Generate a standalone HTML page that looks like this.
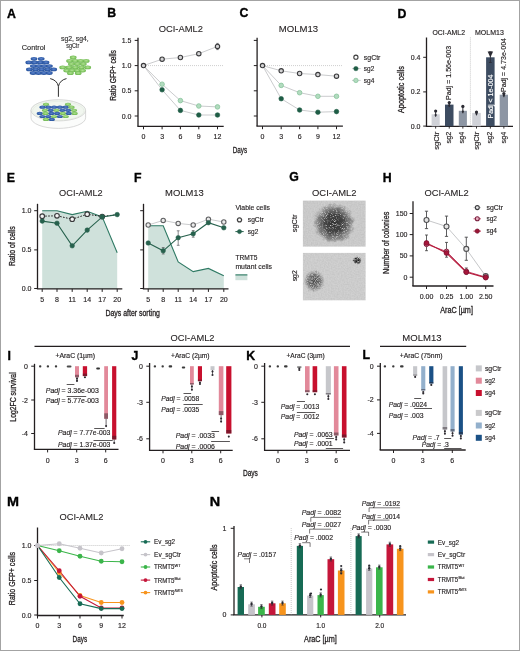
<!DOCTYPE html>
<html><head><meta charset="utf-8"><style>
html,body{margin:0;padding:0;background:#fff;}
svg{display:block;font-family:"Liberation Sans",sans-serif;will-change:transform;}
text{stroke:#231f20;stroke-width:0.15px;}
text.w{stroke:#fff;}
</style></head><body>
<svg width="520" height="651" viewBox="0 0 520 651" fill="#231f20">
<rect x="0" y="0" width="520" height="651" fill="#fff"/>
<rect x="0.5" y="0.5" width="519" height="650" fill="none" stroke="#a3a3a3" stroke-width="1"/>
<text x="7.10" y="17.95" font-size="12.3" font-weight="bold" fill="#000" style="stroke:#000;stroke-width:0.35px">A</text>
<text x="107.25" y="17.10" font-size="12.3" font-weight="bold" fill="#000" style="stroke:#000;stroke-width:0.35px">B</text>
<text x="239.55" y="17.40" font-size="12.3" font-weight="bold" fill="#000" style="stroke:#000;stroke-width:0.35px">C</text>
<text x="397.40" y="17.65" font-size="12.3" font-weight="bold" fill="#000" style="stroke:#000;stroke-width:0.35px">D</text>
<text x="6.65" y="182.25" font-size="12.3" font-weight="bold" fill="#000" style="stroke:#000;stroke-width:0.35px">E</text>
<text x="134.10" y="182.10" font-size="12.3" font-weight="bold" fill="#000" style="stroke:#000;stroke-width:0.35px">F</text>
<text x="289.15" y="181.40" font-size="12.3" font-weight="bold" fill="#000" style="stroke:#000;stroke-width:0.35px">G</text>
<text x="382.65" y="181.90" font-size="12.3" font-weight="bold" fill="#000" style="stroke:#000;stroke-width:0.35px">H</text>
<text x="7.50" y="359.80" font-size="12.3" font-weight="bold" fill="#000" style="stroke:#000;stroke-width:0.35px">I</text>
<text x="131.60" y="360.00" font-size="12.3" font-weight="bold" fill="#000" style="stroke:#000;stroke-width:0.35px">J</text>
<text x="246.25" y="359.80" font-size="12.3" font-weight="bold" fill="#000" style="stroke:#000;stroke-width:0.35px">K</text>
<text x="362.60" y="359.10" font-size="12.3" font-weight="bold" fill="#000" style="stroke:#000;stroke-width:0.35px">L</text>
<text x="7.00" y="506.30" font-size="12.3" font-weight="bold" fill="#000" textLength="12.00" lengthAdjust="spacingAndGlyphs" style="stroke:#000;stroke-width:0.35px">M</text>
<text x="209.80" y="506.15" font-size="12.3" font-weight="bold" fill="#000" textLength="10.40" lengthAdjust="spacingAndGlyphs" style="stroke:#000;stroke-width:0.35px">N</text>
<text x="21.80" y="49.57" font-size="6.5" fill="#3a3a3a" textLength="23.70" lengthAdjust="spacingAndGlyphs">Control</text>
<text x="61.00" y="41.27" font-size="6.5" fill="#3a3a3a" textLength="27.70" lengthAdjust="spacingAndGlyphs">sg2, sg4,</text>
<text x="66.20" y="47.88" font-size="6.5" fill="#3a3a3a" textLength="13.00" lengthAdjust="spacingAndGlyphs">sgCtr</text>
<defs>
<radialGradient id="cb" cx="0.5" cy="0.45" r="0.55"><stop offset="0" stop-color="#5f86cc"/><stop offset="0.6" stop-color="#3762ae"/><stop offset="1" stop-color="#234f98"/></radialGradient>
<radialGradient id="cg" cx="0.5" cy="0.45" r="0.55"><stop offset="0" stop-color="#b2e294"/><stop offset="0.6" stop-color="#86c967"/><stop offset="1" stop-color="#68b04c"/></radialGradient>
</defs>
<ellipse cx="34.00" cy="58.80" rx="3.4" ry="1.9" fill="url(#cb)"/>
<ellipse cx="41.20" cy="58.80" rx="3.4" ry="1.9" fill="url(#cb)"/>
<ellipse cx="28.80" cy="62.40" rx="3.4" ry="1.9" fill="url(#cb)"/>
<ellipse cx="34.53" cy="62.40" rx="3.4" ry="1.9" fill="url(#cb)"/>
<ellipse cx="40.27" cy="62.40" rx="3.4" ry="1.9" fill="url(#cb)"/>
<ellipse cx="46.00" cy="62.40" rx="3.4" ry="1.9" fill="url(#cb)"/>
<ellipse cx="33.40" cy="66.10" rx="3.4" ry="1.9" fill="url(#cb)"/>
<ellipse cx="38.73" cy="66.10" rx="3.4" ry="1.9" fill="url(#cb)"/>
<ellipse cx="44.07" cy="66.10" rx="3.4" ry="1.9" fill="url(#cb)"/>
<ellipse cx="49.40" cy="66.10" rx="3.4" ry="1.9" fill="url(#cb)"/>
<ellipse cx="29.40" cy="69.40" rx="3.4" ry="1.9" fill="url(#cb)"/>
<ellipse cx="35.48" cy="69.40" rx="3.4" ry="1.9" fill="url(#cb)"/>
<ellipse cx="41.55" cy="69.40" rx="3.4" ry="1.9" fill="url(#cb)"/>
<ellipse cx="47.62" cy="69.40" rx="3.4" ry="1.9" fill="url(#cb)"/>
<ellipse cx="53.70" cy="69.40" rx="3.4" ry="1.9" fill="url(#cb)"/>
<ellipse cx="33.10" cy="73.00" rx="3.4" ry="1.9" fill="url(#cb)"/>
<ellipse cx="38.50" cy="73.00" rx="3.4" ry="1.9" fill="url(#cb)"/>
<ellipse cx="43.90" cy="73.00" rx="3.4" ry="1.9" fill="url(#cb)"/>
<ellipse cx="49.30" cy="73.00" rx="3.4" ry="1.9" fill="url(#cb)"/>
<ellipse cx="73.20" cy="57.50" rx="3.4" ry="1.9" fill="url(#cg)"/>
<ellipse cx="69.60" cy="60.90" rx="3.4" ry="1.9" fill="url(#cg)"/>
<ellipse cx="75.13" cy="60.90" rx="3.4" ry="1.9" fill="url(#cg)"/>
<ellipse cx="80.67" cy="60.90" rx="3.4" ry="1.9" fill="url(#cg)"/>
<ellipse cx="86.20" cy="60.90" rx="3.4" ry="1.9" fill="url(#cg)"/>
<ellipse cx="71.40" cy="64.10" rx="3.4" ry="1.9" fill="url(#cg)"/>
<ellipse cx="77.35" cy="64.10" rx="3.4" ry="1.9" fill="url(#cg)"/>
<ellipse cx="83.30" cy="64.10" rx="3.4" ry="1.9" fill="url(#cg)"/>
<ellipse cx="62.70" cy="67.40" rx="3.4" ry="1.9" fill="url(#cg)"/>
<ellipse cx="68.95" cy="67.40" rx="3.4" ry="1.9" fill="url(#cg)"/>
<ellipse cx="75.20" cy="67.40" rx="3.4" ry="1.9" fill="url(#cg)"/>
<ellipse cx="81.45" cy="67.40" rx="3.4" ry="1.9" fill="url(#cg)"/>
<ellipse cx="87.70" cy="67.40" rx="3.4" ry="1.9" fill="url(#cg)"/>
<ellipse cx="66.70" cy="70.60" rx="3.4" ry="1.9" fill="url(#cg)"/>
<ellipse cx="72.00" cy="70.60" rx="3.4" ry="1.9" fill="url(#cg)"/>
<ellipse cx="77.30" cy="70.60" rx="3.4" ry="1.9" fill="url(#cg)"/>
<ellipse cx="82.60" cy="70.60" rx="3.4" ry="1.9" fill="url(#cg)"/>
<ellipse cx="70.40" cy="73.20" rx="3.4" ry="1.9" fill="url(#cg)"/>
<ellipse cx="78.20" cy="73.20" rx="3.4" ry="1.9" fill="url(#cg)"/>
<path d="M50.2,78.6 C54.2,79.4 57.6,82 58.4,86.4 M66.5,78.6 C62.6,79.4 59.2,82 58.4,86.4 L58.4,96.8" fill="none" stroke="#303030" stroke-width="1.0"/>
<path d="M31,110.3 L31,117.8 A27.3,10.6 0 0 0 85.6,117.8 L85.6,110.3" fill="#fbfcfb" stroke="#c8c8c8" stroke-width="0.7"/>
<ellipse cx="58.3" cy="110.3" rx="27.3" ry="10.6" fill="#f1f6ef" stroke="#c8c8c8" stroke-width="0.7"/>
<ellipse cx="58.3" cy="110.8" rx="25.6" ry="9.4" fill="none" stroke="#dfe6dc" stroke-width="0.5"/>
<ellipse cx="46.00" cy="104.30" rx="3.1" ry="1.6" fill="url(#cg)"/>
<ellipse cx="68.00" cy="104.30" rx="3.1" ry="1.6" fill="url(#cg)"/>
<ellipse cx="42.50" cy="107.20" rx="3.1" ry="1.6" fill="url(#cb)"/>
<ellipse cx="48.30" cy="107.20" rx="3.1" ry="1.6" fill="url(#cb)"/>
<ellipse cx="54.10" cy="107.20" rx="3.1" ry="1.6" fill="url(#cb)"/>
<ellipse cx="59.90" cy="107.20" rx="3.1" ry="1.6" fill="url(#cb)"/>
<ellipse cx="65.70" cy="107.20" rx="3.1" ry="1.6" fill="url(#cb)"/>
<ellipse cx="71.50" cy="107.20" rx="3.1" ry="1.6" fill="url(#cg)"/>
<ellipse cx="45.00" cy="110.30" rx="3.1" ry="1.6" fill="url(#cg)"/>
<ellipse cx="50.80" cy="110.30" rx="3.1" ry="1.6" fill="url(#cb)"/>
<ellipse cx="56.60" cy="110.30" rx="3.1" ry="1.6" fill="url(#cg)"/>
<ellipse cx="62.40" cy="110.30" rx="3.1" ry="1.6" fill="url(#cb)"/>
<ellipse cx="68.20" cy="110.30" rx="3.1" ry="1.6" fill="url(#cb)"/>
<ellipse cx="74.00" cy="110.30" rx="3.1" ry="1.6" fill="url(#cg)"/>
<ellipse cx="39.80" cy="113.40" rx="3.1" ry="1.6" fill="url(#cb)"/>
<ellipse cx="45.60" cy="113.40" rx="3.1" ry="1.6" fill="url(#cg)"/>
<ellipse cx="51.40" cy="113.40" rx="3.1" ry="1.6" fill="url(#cb)"/>
<ellipse cx="57.20" cy="113.40" rx="3.1" ry="1.6" fill="url(#cb)"/>
<ellipse cx="63.00" cy="113.40" rx="3.1" ry="1.6" fill="url(#cg)"/>
<ellipse cx="68.80" cy="113.40" rx="3.1" ry="1.6" fill="url(#cb)"/>
<ellipse cx="74.60" cy="113.40" rx="3.1" ry="1.6" fill="url(#cg)"/>
<ellipse cx="42.50" cy="116.50" rx="3.1" ry="1.6" fill="url(#cb)"/>
<ellipse cx="48.30" cy="116.50" rx="3.1" ry="1.6" fill="url(#cb)"/>
<ellipse cx="54.10" cy="116.50" rx="3.1" ry="1.6" fill="url(#cg)"/>
<ellipse cx="59.90" cy="116.50" rx="3.1" ry="1.6" fill="url(#cb)"/>
<ellipse cx="65.70" cy="116.50" rx="3.1" ry="1.6" fill="url(#cg)"/>
<ellipse cx="46.00" cy="119.40" rx="3.1" ry="1.6" fill="url(#cg)"/>
<ellipse cx="51.80" cy="119.40" rx="3.1" ry="1.6" fill="url(#cb)"/>
<text x="180.75" y="31.60" font-size="9.1" text-anchor="middle" textLength="44.20" lengthAdjust="spacingAndGlyphs" style="stroke-width:0.1px">OCI-AML2</text>
<line x1="138.00" y1="37.70" x2="138.00" y2="126.30" stroke="#231f20" stroke-width="1.3"/>
<line x1="134.70" y1="40.40" x2="138.00" y2="40.40" stroke="#231f20" stroke-width="1.0"/>
<text x="131.40" y="42.92" font-size="7" text-anchor="end">1.5</text>
<line x1="134.70" y1="65.60" x2="138.00" y2="65.60" stroke="#231f20" stroke-width="1.0"/>
<text x="131.40" y="68.12" font-size="7" text-anchor="end">1.0</text>
<line x1="134.70" y1="90.80" x2="138.00" y2="90.80" stroke="#231f20" stroke-width="1.0"/>
<text x="131.40" y="93.32" font-size="7" text-anchor="end">0.5</text>
<line x1="134.70" y1="116.00" x2="138.00" y2="116.00" stroke="#231f20" stroke-width="1.0"/>
<text x="131.40" y="118.52" font-size="7" text-anchor="end">0.0</text>
<line x1="137.35" y1="126.30" x2="223.70" y2="126.30" stroke="#231f20" stroke-width="1.3"/>
<line x1="143.50" y1="126.30" x2="143.50" y2="129.30" stroke="#231f20" stroke-width="1.0"/>
<text x="143.50" y="139.42" font-size="7" text-anchor="middle">0</text>
<line x1="162.10" y1="126.30" x2="162.10" y2="129.30" stroke="#231f20" stroke-width="1.0"/>
<text x="162.10" y="139.42" font-size="7" text-anchor="middle">3</text>
<line x1="180.40" y1="126.30" x2="180.40" y2="129.30" stroke="#231f20" stroke-width="1.0"/>
<text x="180.40" y="139.42" font-size="7" text-anchor="middle">6</text>
<line x1="198.80" y1="126.30" x2="198.80" y2="129.30" stroke="#231f20" stroke-width="1.0"/>
<text x="198.80" y="139.42" font-size="7" text-anchor="middle">9</text>
<line x1="217.50" y1="126.30" x2="217.50" y2="129.30" stroke="#231f20" stroke-width="1.0"/>
<text x="217.50" y="139.42" font-size="7" text-anchor="middle">12</text>
<line x1="146.00" y1="65.60" x2="224.00" y2="65.60" stroke="#a8a8a8" stroke-width="0.7" stroke-dasharray="0.8 1.2"/>
<polyline points="143.50,65.60 162.10,89.80 180.40,110.40 198.80,115.00 217.50,115.00" fill="none" stroke="#bcbec0" stroke-width="0.8"/>
<polyline points="143.50,65.60 162.10,84.20 180.40,100.60 198.80,106.00 217.50,106.90" fill="none" stroke="#bcbec0" stroke-width="0.8"/>
<polyline points="143.50,65.60 162.10,59.20 180.40,57.50 198.80,53.70 217.50,46.40" fill="none" stroke="#bcbec0" stroke-width="0.8"/>
<circle cx="162.10" cy="89.80" r="2.3" fill="#1e5c45" stroke="#1e5c45" stroke-width="0.6"/>
<circle cx="180.40" cy="110.40" r="2.3" fill="#1e5c45" stroke="#1e5c45" stroke-width="0.6"/>
<circle cx="198.80" cy="115.00" r="2.3" fill="#1e5c45" stroke="#1e5c45" stroke-width="0.6"/>
<circle cx="217.50" cy="115.00" r="2.3" fill="#1e5c45" stroke="#1e5c45" stroke-width="0.6"/>
<circle cx="162.10" cy="84.20" r="2.3" fill="#b2dbbf" stroke="#86c49a" stroke-width="0.8"/>
<circle cx="180.40" cy="100.60" r="2.3" fill="#b2dbbf" stroke="#86c49a" stroke-width="0.8"/>
<circle cx="198.80" cy="106.00" r="2.3" fill="#b2dbbf" stroke="#86c49a" stroke-width="0.8"/>
<circle cx="217.50" cy="106.90" r="2.3" fill="#b2dbbf" stroke="#86c49a" stroke-width="0.8"/>
<line x1="217.50" y1="43.40" x2="217.50" y2="49.60" stroke="#58595b" stroke-width="0.7"/>
<line x1="216.20" y1="43.40" x2="218.80" y2="43.40" stroke="#58595b" stroke-width="0.7"/>
<line x1="216.20" y1="49.60" x2="218.80" y2="49.60" stroke="#58595b" stroke-width="0.7"/>
<circle cx="143.50" cy="65.60" r="2.2" fill="#d4d4d5" stroke="#3a3a3c" stroke-width="1.1"/>
<circle cx="162.10" cy="59.20" r="2.2" fill="#d4d4d5" stroke="#3a3a3c" stroke-width="1.1"/>
<circle cx="180.40" cy="57.50" r="2.2" fill="#d4d4d5" stroke="#3a3a3c" stroke-width="1.1"/>
<circle cx="198.80" cy="53.70" r="2.2" fill="#d4d4d5" stroke="#3a3a3c" stroke-width="1.1"/>
<circle cx="217.50" cy="46.40" r="2.2" fill="#d4d4d5" stroke="#3a3a3c" stroke-width="1.1"/>
<text x="116.00" y="75.45" font-size="9" text-anchor="middle" textLength="50.70" lengthAdjust="spacingAndGlyphs" transform="rotate(-90 116.00 75.45)" style="stroke-width:0.3px">Ratio GFP+ cells</text>
<text x="232.80" y="152.50" font-size="9" textLength="14.40" lengthAdjust="spacingAndGlyphs" style="stroke-width:0.3px">Days</text>
<text x="298.45" y="31.70" font-size="9.1" text-anchor="middle" textLength="39.40" lengthAdjust="spacingAndGlyphs" style="stroke-width:0.1px">MOLM13</text>
<line x1="257.10" y1="37.70" x2="257.10" y2="126.20" stroke="#231f20" stroke-width="1.3"/>
<line x1="253.80" y1="40.40" x2="257.10" y2="40.40" stroke="#231f20" stroke-width="1.0"/>
<line x1="253.80" y1="65.60" x2="257.10" y2="65.60" stroke="#231f20" stroke-width="1.0"/>
<line x1="253.80" y1="90.80" x2="257.10" y2="90.80" stroke="#231f20" stroke-width="1.0"/>
<line x1="253.80" y1="116.00" x2="257.10" y2="116.00" stroke="#231f20" stroke-width="1.0"/>
<line x1="256.45" y1="126.20" x2="342.90" y2="126.20" stroke="#231f20" stroke-width="1.3"/>
<line x1="262.50" y1="126.20" x2="262.50" y2="129.20" stroke="#231f20" stroke-width="1.0"/>
<text x="262.50" y="139.42" font-size="7" text-anchor="middle">0</text>
<line x1="281.20" y1="126.20" x2="281.20" y2="129.20" stroke="#231f20" stroke-width="1.0"/>
<text x="281.20" y="139.42" font-size="7" text-anchor="middle">3</text>
<line x1="299.60" y1="126.20" x2="299.60" y2="129.20" stroke="#231f20" stroke-width="1.0"/>
<text x="299.60" y="139.42" font-size="7" text-anchor="middle">6</text>
<line x1="317.90" y1="126.20" x2="317.90" y2="129.20" stroke="#231f20" stroke-width="1.0"/>
<text x="317.90" y="139.42" font-size="7" text-anchor="middle">9</text>
<line x1="336.50" y1="126.20" x2="336.50" y2="129.20" stroke="#231f20" stroke-width="1.0"/>
<text x="336.50" y="139.42" font-size="7" text-anchor="middle">12</text>
<line x1="265.00" y1="65.60" x2="343.00" y2="65.60" stroke="#a8a8a8" stroke-width="0.7" stroke-dasharray="0.8 1.2"/>
<polyline points="262.50,65.60 281.20,98.70 299.60,110.00 317.90,112.20 336.50,111.60" fill="none" stroke="#bcbec0" stroke-width="0.8"/>
<polyline points="262.50,65.60 281.20,85.40 299.60,92.70 317.90,96.30 336.50,96.30" fill="none" stroke="#bcbec0" stroke-width="0.8"/>
<polyline points="262.50,65.60 281.20,70.80 299.60,73.50 317.90,74.60 336.50,76.20" fill="none" stroke="#bcbec0" stroke-width="0.8"/>
<circle cx="281.20" cy="98.70" r="2.3" fill="#1e5c45" stroke="#1e5c45" stroke-width="0.6"/>
<circle cx="299.60" cy="110.00" r="2.3" fill="#1e5c45" stroke="#1e5c45" stroke-width="0.6"/>
<circle cx="317.90" cy="112.20" r="2.3" fill="#1e5c45" stroke="#1e5c45" stroke-width="0.6"/>
<circle cx="336.50" cy="111.60" r="2.3" fill="#1e5c45" stroke="#1e5c45" stroke-width="0.6"/>
<circle cx="281.20" cy="85.40" r="2.3" fill="#b2dbbf" stroke="#86c49a" stroke-width="0.8"/>
<circle cx="299.60" cy="92.70" r="2.3" fill="#b2dbbf" stroke="#86c49a" stroke-width="0.8"/>
<circle cx="317.90" cy="96.30" r="2.3" fill="#b2dbbf" stroke="#86c49a" stroke-width="0.8"/>
<circle cx="336.50" cy="96.30" r="2.3" fill="#b2dbbf" stroke="#86c49a" stroke-width="0.8"/>
<circle cx="262.50" cy="65.60" r="2.2" fill="#d4d4d5" stroke="#3a3a3c" stroke-width="1.1"/>
<circle cx="281.20" cy="70.80" r="2.2" fill="#d4d4d5" stroke="#3a3a3c" stroke-width="1.1"/>
<circle cx="299.60" cy="73.50" r="2.2" fill="#d4d4d5" stroke="#3a3a3c" stroke-width="1.1"/>
<circle cx="317.90" cy="74.60" r="2.2" fill="#d4d4d5" stroke="#3a3a3c" stroke-width="1.1"/>
<circle cx="336.50" cy="76.20" r="2.2" fill="#d4d4d5" stroke="#3a3a3c" stroke-width="1.1"/>
<circle cx="355.90" cy="57.20" r="2.1" fill="#ffffff" stroke="#3c3c3c" stroke-width="1.1"/>
<line x1="352.00" y1="68.60" x2="360.70" y2="68.60" stroke="#bcbec0" stroke-width="0.8"/>
<circle cx="355.90" cy="68.60" r="2.2" fill="#1e5c45" stroke="#1e5c45" stroke-width="0.5"/>
<line x1="352.00" y1="80.40" x2="360.70" y2="80.40" stroke="#bcbec0" stroke-width="0.8"/>
<circle cx="355.90" cy="80.40" r="2.2" fill="#b2dbbf" stroke="#86c49a" stroke-width="0.8"/>
<text x="363.80" y="59.60" font-size="7.2" textLength="16.60" lengthAdjust="spacingAndGlyphs">sgCtr</text>
<text x="363.80" y="71.00" font-size="7.2" textLength="10.50" lengthAdjust="spacingAndGlyphs">sg2</text>
<text x="363.80" y="82.80" font-size="7.2" textLength="10.50" lengthAdjust="spacingAndGlyphs">sg4</text>
<text x="432.50" y="35.00" font-size="7" textLength="32.50" lengthAdjust="spacingAndGlyphs">OCI-AML2</text>
<text x="475.00" y="35.00" font-size="7" textLength="28.80" lengthAdjust="spacingAndGlyphs">MOLM13</text>
<line x1="426.50" y1="37.50" x2="426.50" y2="126.30" stroke="#231f20" stroke-width="1.3"/>
<line x1="423.20" y1="57.30" x2="426.50" y2="57.30" stroke="#231f20" stroke-width="1.0"/>
<text x="420.50" y="59.82" font-size="7" text-anchor="end">0.4</text>
<line x1="423.20" y1="91.90" x2="426.50" y2="91.90" stroke="#231f20" stroke-width="1.0"/>
<text x="420.50" y="94.42" font-size="7" text-anchor="end">0.2</text>
<line x1="423.20" y1="126.10" x2="426.50" y2="126.10" stroke="#231f20" stroke-width="1.0"/>
<text x="420.50" y="128.62" font-size="7" text-anchor="end">0.0</text>
<line x1="425.85" y1="126.30" x2="513.00" y2="126.30" stroke="#231f20" stroke-width="1.3"/>
<rect x="431.60" y="114.30" width="8.10" height="12.00" fill="#d0d2d8"/>
<rect x="445.00" y="104.60" width="8.50" height="21.70" fill="#3d4c61"/>
<rect x="458.80" y="110.80" width="8.10" height="15.50" fill="#8d96a4"/>
<rect x="472.20" y="112.90" width="8.60" height="13.40" fill="#d0d2d8"/>
<rect x="486.10" y="57.30" width="8.50" height="69.00" fill="#3d4c61"/>
<rect x="499.70" y="94.70" width="8.30" height="31.60" fill="#8d96a4"/>
<line x1="435.65" y1="111.00" x2="435.65" y2="116.80" stroke="#2b2b33" stroke-width="1.0"/>
<circle cx="435.65" cy="111.00" r="1.6" fill="#2b2b33"/>
<circle cx="435.65" cy="115.10" r="1.1" fill="#2b2b33"/>
<line x1="435.65" y1="126.30" x2="435.65" y2="128.60" stroke="#231f20" stroke-width="0.9"/>
<line x1="449.25" y1="102.60" x2="449.25" y2="107.10" stroke="#2b2b33" stroke-width="1.0"/>
<circle cx="449.25" cy="102.60" r="1.6" fill="#2b2b33"/>
<circle cx="449.25" cy="105.40" r="1.1" fill="#2b2b33"/>
<line x1="449.25" y1="126.30" x2="449.25" y2="128.60" stroke="#231f20" stroke-width="0.9"/>
<line x1="462.85" y1="106.40" x2="462.85" y2="113.30" stroke="#2b2b33" stroke-width="1.0"/>
<circle cx="462.85" cy="106.40" r="1.6" fill="#2b2b33"/>
<circle cx="462.85" cy="111.60" r="1.1" fill="#2b2b33"/>
<line x1="462.85" y1="126.30" x2="462.85" y2="128.60" stroke="#231f20" stroke-width="0.9"/>
<line x1="476.50" y1="112.00" x2="476.50" y2="115.40" stroke="#2b2b33" stroke-width="1.0"/>
<circle cx="476.50" cy="112.00" r="1.6" fill="#2b2b33"/>
<circle cx="476.50" cy="113.70" r="1.1" fill="#2b2b33"/>
<line x1="476.50" y1="126.30" x2="476.50" y2="128.60" stroke="#231f20" stroke-width="0.9"/>
<line x1="490.35" y1="126.30" x2="490.35" y2="128.60" stroke="#231f20" stroke-width="0.9"/>
<line x1="503.85" y1="93.60" x2="503.85" y2="97.20" stroke="#2b2b33" stroke-width="1.0"/>
<circle cx="503.85" cy="93.60" r="1.6" fill="#2b2b33"/>
<circle cx="503.85" cy="95.50" r="1.1" fill="#2b2b33"/>
<line x1="503.85" y1="126.30" x2="503.85" y2="128.60" stroke="#231f20" stroke-width="0.9"/>
<line x1="490.35" y1="51.80" x2="490.35" y2="62.50" stroke="#2b2b33" stroke-width="0.8"/>
<line x1="488.95" y1="51.80" x2="491.75" y2="51.80" stroke="#2b2b33" stroke-width="0.8"/>
<line x1="488.95" y1="62.50" x2="491.75" y2="62.50" stroke="#2b2b33" stroke-width="0.8"/>
<line x1="470.40" y1="37.50" x2="470.40" y2="126.00" stroke="#a0a0a0" stroke-width="0.7" stroke-dasharray="0.8 1.2"/>
<path d="M487.6,51.6 H493.1 L490.35,57.6 Z" fill="#2b2b33"/>
<text x="451.17" y="72.90" font-size="6.5" text-anchor="middle" fill="#231f20" style="stroke:#231f20" textLength="54.2" lengthAdjust="spacingAndGlyphs" transform="rotate(-90 451.17 72.90)">Padj = 1.56e-003</text>
<text x="492.57" y="96.50" font-size="6.5" text-anchor="middle" fill="#ffffff" style="stroke:#ffffff" textLength="43.9" lengthAdjust="spacingAndGlyphs" transform="rotate(-90 492.57 96.50)">Padj &lt; 1e-004</text>
<text x="506.07" y="65.00" font-size="6.5" text-anchor="middle" fill="#231f20" style="stroke:#231f20" textLength="54.0" lengthAdjust="spacingAndGlyphs" transform="rotate(-90 506.07 65.00)">Padj = 4.73e-004</text>
<text x="438.75" y="131.80" font-size="6.5" text-anchor="end" textLength="18.00" lengthAdjust="spacingAndGlyphs" transform="rotate(-90 438.75 131.80)">sgCtr</text>
<text x="451.15" y="131.80" font-size="6.5" text-anchor="end" textLength="11.60" lengthAdjust="spacingAndGlyphs" transform="rotate(-90 451.15 131.80)">sg2</text>
<text x="463.65" y="131.80" font-size="6.5" text-anchor="end" textLength="11.60" lengthAdjust="spacingAndGlyphs" transform="rotate(-90 463.65 131.80)">sg4</text>
<text x="478.85" y="131.80" font-size="6.5" text-anchor="end" textLength="18.00" lengthAdjust="spacingAndGlyphs" transform="rotate(-90 478.85 131.80)">sgCtr</text>
<text x="491.85" y="131.80" font-size="6.5" text-anchor="end" textLength="11.60" lengthAdjust="spacingAndGlyphs" transform="rotate(-90 491.85 131.80)">sg2</text>
<text x="505.65" y="131.80" font-size="6.5" text-anchor="end" textLength="11.60" lengthAdjust="spacingAndGlyphs" transform="rotate(-90 505.65 131.80)">sg4</text>
<text x="404.10" y="89.50" font-size="8.5" text-anchor="middle" textLength="47.00" lengthAdjust="spacingAndGlyphs" transform="rotate(-90 404.10 89.50)" style="stroke-width:0.3px">Apoptotic cells</text>
<text x="80.90" y="196.20" font-size="9.1" text-anchor="middle" textLength="43.60" lengthAdjust="spacingAndGlyphs" style="stroke-width:0.1px">OCI-AML2</text>
<polygon points="42.20,288.90 42.20,210.70 57.00,210.70 72.20,214.60 87.20,211.20 102.20,216.90 117.20,252.70 117.20,288.90" fill="#cfe1db"/>
<polyline points="42.20,210.70 57.00,210.70 72.20,214.60 87.20,211.20 102.20,216.90 117.20,252.70" fill="none" stroke="#2f7a64" stroke-width="1.1"/>
<line x1="37.50" y1="203.80" x2="37.50" y2="288.90" stroke="#231f20" stroke-width="1.3"/>
<line x1="34.20" y1="210.70" x2="37.50" y2="210.70" stroke="#231f20" stroke-width="1.0"/>
<text x="31.50" y="213.22" font-size="7" text-anchor="end">1.0</text>
<line x1="34.20" y1="249.90" x2="37.50" y2="249.90" stroke="#231f20" stroke-width="1.0"/>
<text x="31.50" y="252.42" font-size="7" text-anchor="end">0.5</text>
<line x1="34.20" y1="288.50" x2="37.50" y2="288.50" stroke="#231f20" stroke-width="1.0"/>
<text x="31.50" y="291.02" font-size="7" text-anchor="end">0.0</text>
<line x1="36.85" y1="288.90" x2="122.30" y2="288.90" stroke="#231f20" stroke-width="1.3"/>
<line x1="42.20" y1="288.90" x2="42.20" y2="291.90" stroke="#231f20" stroke-width="1.0"/>
<text x="42.20" y="301.82" font-size="7" text-anchor="middle">5</text>
<line x1="57.00" y1="288.90" x2="57.00" y2="291.90" stroke="#231f20" stroke-width="1.0"/>
<text x="57.00" y="301.82" font-size="7" text-anchor="middle">8</text>
<line x1="72.20" y1="288.90" x2="72.20" y2="291.90" stroke="#231f20" stroke-width="1.0"/>
<text x="72.20" y="301.82" font-size="7" text-anchor="middle">11</text>
<line x1="87.20" y1="288.90" x2="87.20" y2="291.90" stroke="#231f20" stroke-width="1.0"/>
<text x="87.20" y="301.82" font-size="7" text-anchor="middle">14</text>
<line x1="102.20" y1="288.90" x2="102.20" y2="291.90" stroke="#231f20" stroke-width="1.0"/>
<text x="102.20" y="301.82" font-size="7" text-anchor="middle">17</text>
<line x1="117.20" y1="288.90" x2="117.20" y2="291.90" stroke="#231f20" stroke-width="1.0"/>
<text x="117.20" y="301.82" font-size="7" text-anchor="middle">20</text>
<polyline points="42.20,216.20 57.00,215.80 72.20,219.20 87.20,214.20 102.20,216.50 117.20,214.60" fill="none" stroke="#231f20" stroke-width="1.0" stroke-dasharray="1.6 1.4"/>
<polyline points="42.20,221.10 57.00,223.20 72.20,245.80 87.20,230.10 102.20,216.90 117.20,214.60" fill="none" stroke="#27614d" stroke-width="1.1"/>
<circle cx="42.20" cy="216.20" r="2.3" fill="#f4f4f4" stroke="#38383a" stroke-width="1.1"/>
<circle cx="57.00" cy="215.80" r="2.3" fill="#f4f4f4" stroke="#38383a" stroke-width="1.1"/>
<circle cx="72.20" cy="219.20" r="2.3" fill="#f4f4f4" stroke="#38383a" stroke-width="1.1"/>
<circle cx="87.20" cy="214.20" r="2.3" fill="#f4f4f4" stroke="#38383a" stroke-width="1.1"/>
<circle cx="102.20" cy="216.50" r="2.3" fill="#f4f4f4" stroke="#38383a" stroke-width="1.1"/>
<circle cx="42.20" cy="221.10" r="2.3" fill="#27614d" stroke="#27614d" stroke-width="0.5"/>
<circle cx="57.00" cy="223.20" r="2.3" fill="#27614d" stroke="#27614d" stroke-width="0.5"/>
<circle cx="72.20" cy="245.80" r="2.3" fill="#27614d" stroke="#27614d" stroke-width="0.5"/>
<circle cx="87.20" cy="230.10" r="2.3" fill="#27614d" stroke="#27614d" stroke-width="0.5"/>
<circle cx="102.20" cy="216.90" r="2.3" fill="#27614d" stroke="#27614d" stroke-width="0.5"/>
<circle cx="117.20" cy="214.60" r="2.3" fill="#27614d" stroke="#27614d" stroke-width="0.5"/>
<text x="14.80" y="246.20" font-size="8.8" text-anchor="middle" textLength="39.60" lengthAdjust="spacingAndGlyphs" transform="rotate(-90 14.80 246.20)" style="stroke-width:0.3px">Ratio of cells</text>
<text x="105.40" y="315.50" font-size="8.5" textLength="54.50" lengthAdjust="spacingAndGlyphs" style="stroke-width:0.3px">Days after sorting</text>
<text x="184.45" y="196.20" font-size="9.1" text-anchor="middle" textLength="38.80" lengthAdjust="spacingAndGlyphs" style="stroke-width:0.1px">MOLM13</text>
<polygon points="148.20,288.90 148.20,225.70 163.20,225.70 178.20,261.90 193.20,271.60 208.40,268.40 223.80,275.80 223.80,288.90" fill="#cfe1db"/>
<polyline points="148.20,225.70 163.20,225.70 178.20,261.90 193.20,271.60 208.40,268.40 223.80,275.80" fill="none" stroke="#2f7a64" stroke-width="1.1"/>
<line x1="143.50" y1="203.80" x2="143.50" y2="288.90" stroke="#231f20" stroke-width="1.3"/>
<line x1="140.20" y1="210.70" x2="143.50" y2="210.70" stroke="#231f20" stroke-width="1.0"/>
<line x1="140.20" y1="249.90" x2="143.50" y2="249.90" stroke="#231f20" stroke-width="1.0"/>
<line x1="140.20" y1="288.50" x2="143.50" y2="288.50" stroke="#231f20" stroke-width="1.0"/>
<line x1="142.85" y1="288.90" x2="228.50" y2="288.90" stroke="#231f20" stroke-width="1.3"/>
<line x1="148.20" y1="288.90" x2="148.20" y2="291.90" stroke="#231f20" stroke-width="1.0"/>
<text x="148.20" y="301.82" font-size="7" text-anchor="middle">5</text>
<line x1="163.20" y1="288.90" x2="163.20" y2="291.90" stroke="#231f20" stroke-width="1.0"/>
<text x="163.20" y="301.82" font-size="7" text-anchor="middle">8</text>
<line x1="178.20" y1="288.90" x2="178.20" y2="291.90" stroke="#231f20" stroke-width="1.0"/>
<text x="178.20" y="301.82" font-size="7" text-anchor="middle">11</text>
<line x1="193.20" y1="288.90" x2="193.20" y2="291.90" stroke="#231f20" stroke-width="1.0"/>
<text x="193.20" y="301.82" font-size="7" text-anchor="middle">14</text>
<line x1="208.40" y1="288.90" x2="208.40" y2="291.90" stroke="#231f20" stroke-width="1.0"/>
<text x="208.40" y="301.82" font-size="7" text-anchor="middle">17</text>
<line x1="223.80" y1="288.90" x2="223.80" y2="291.90" stroke="#231f20" stroke-width="1.0"/>
<text x="223.80" y="301.82" font-size="7" text-anchor="middle">20</text>
<polyline points="148.20,225.00 163.20,220.40 178.20,223.40 193.20,225.00 208.40,219.20 223.80,222.00" fill="none" stroke="#bcbec0" stroke-width="0.8"/>
<polyline points="148.20,243.00 163.20,250.80 178.20,237.70 193.20,233.80 208.40,222.70 223.80,227.80" fill="none" stroke="#27614d" stroke-width="1.1"/>
<line x1="163.20" y1="247.50" x2="163.20" y2="254.00" stroke="#58595b" stroke-width="0.7"/>
<line x1="161.80" y1="247.50" x2="164.60" y2="247.50" stroke="#58595b" stroke-width="0.7"/>
<line x1="161.80" y1="254.00" x2="164.60" y2="254.00" stroke="#58595b" stroke-width="0.7"/>
<line x1="178.20" y1="230.80" x2="178.20" y2="245.30" stroke="#58595b" stroke-width="0.7"/>
<line x1="176.80" y1="230.80" x2="179.60" y2="230.80" stroke="#58595b" stroke-width="0.7"/>
<line x1="176.80" y1="245.30" x2="179.60" y2="245.30" stroke="#58595b" stroke-width="0.7"/>
<line x1="193.20" y1="230.50" x2="193.20" y2="237.20" stroke="#58595b" stroke-width="0.7"/>
<line x1="191.80" y1="230.50" x2="194.60" y2="230.50" stroke="#58595b" stroke-width="0.7"/>
<line x1="191.80" y1="237.20" x2="194.60" y2="237.20" stroke="#58595b" stroke-width="0.7"/>
<circle cx="148.20" cy="225.00" r="2.2" fill="#ececec" stroke="#5e5f61" stroke-width="1.1"/>
<circle cx="163.20" cy="220.40" r="2.2" fill="#ececec" stroke="#5e5f61" stroke-width="1.1"/>
<circle cx="178.20" cy="223.40" r="2.2" fill="#ececec" stroke="#5e5f61" stroke-width="1.1"/>
<circle cx="193.20" cy="225.00" r="2.2" fill="#ececec" stroke="#5e5f61" stroke-width="1.1"/>
<circle cx="208.40" cy="219.20" r="2.2" fill="#ececec" stroke="#5e5f61" stroke-width="1.1"/>
<circle cx="223.80" cy="222.00" r="2.2" fill="#ececec" stroke="#5e5f61" stroke-width="1.1"/>
<circle cx="148.20" cy="243.00" r="2.3" fill="#27614d" stroke="#27614d" stroke-width="0.5"/>
<circle cx="163.20" cy="250.80" r="2.3" fill="#27614d" stroke="#27614d" stroke-width="0.5"/>
<circle cx="178.20" cy="237.70" r="2.3" fill="#27614d" stroke="#27614d" stroke-width="0.5"/>
<circle cx="193.20" cy="233.80" r="2.3" fill="#27614d" stroke="#27614d" stroke-width="0.5"/>
<circle cx="208.40" cy="222.70" r="2.3" fill="#27614d" stroke="#27614d" stroke-width="0.5"/>
<circle cx="223.80" cy="227.80" r="2.3" fill="#27614d" stroke="#27614d" stroke-width="0.5"/>
<text x="235.40" y="209.80" font-size="7.2" textLength="34.50" lengthAdjust="spacingAndGlyphs">Viable cells</text>
<line x1="236.00" y1="219.90" x2="243.20" y2="219.90" stroke="#bcbec0" stroke-width="0.8"/>
<circle cx="239.50" cy="219.90" r="2.0" fill="#ffffff" stroke="#3c3c3c" stroke-width="1.1"/>
<line x1="235.40" y1="231.60" x2="243.70" y2="231.60" stroke="#27614d" stroke-width="1.0"/>
<circle cx="239.50" cy="231.60" r="2.1" fill="#27614d" stroke="#27614d" stroke-width="0.5"/>
<text x="247.80" y="222.30" font-size="7.2" textLength="16.00" lengthAdjust="spacingAndGlyphs">sgCtr</text>
<text x="247.80" y="234.00" font-size="7.2" textLength="10.50" lengthAdjust="spacingAndGlyphs">sg2</text>
<text x="235.40" y="260.30" font-size="7.2" textLength="22.00" lengthAdjust="spacingAndGlyphs">TRMT5</text>
<text x="235.40" y="268.90" font-size="7.2" textLength="36.60" lengthAdjust="spacingAndGlyphs">mutant cells</text>
<rect x="235.40" y="275.20" width="12.00" height="5.00" fill="#cfe1db"/>
<line x1="235.40" y1="274.90" x2="247.40" y2="274.90" stroke="#2f7a64" stroke-width="1.2"/>
<text x="334.25" y="196.20" font-size="9.1" text-anchor="middle" textLength="44.50" lengthAdjust="spacingAndGlyphs" style="stroke-width:0.1px">OCI-AML2</text>
<defs>
<radialGradient id="blob1" cx="0.52" cy="0.5" r="0.5"><stop offset="0" stop-color="#2a2a2a" stop-opacity="0.95"/><stop offset="0.45" stop-color="#2e2e2e" stop-opacity="0.85"/><stop offset="0.75" stop-color="#3a3a3a" stop-opacity="0.5"/><stop offset="1" stop-color="#444" stop-opacity="0"/></radialGradient>
<radialGradient id="blob2" cx="0.5" cy="0.5" r="0.5"><stop offset="0" stop-color="#2e2e2e" stop-opacity="0.85"/><stop offset="0.6" stop-color="#363636" stop-opacity="0.6"/><stop offset="1" stop-color="#444" stop-opacity="0"/></radialGradient>
<radialGradient id="blob3" cx="0.5" cy="0.5" r="0.5"><stop offset="0" stop-color="#111" /><stop offset="0.6" stop-color="#222" stop-opacity="0.95"/><stop offset="1" stop-color="#333" stop-opacity="0"/></radialGradient>
<filter id="sp" x="-20%" y="-20%" width="140%" height="140%" color-interpolation-filters="sRGB">
 <feTurbulence type="fractalNoise" baseFrequency="0.22" numOctaves="2" seed="11" result="d"/>
 <feDisplacementMap in="SourceGraphic" in2="d" scale="5" xChannelSelector="R" yChannelSelector="G" result="disp"/>
 <feTurbulence type="fractalNoise" baseFrequency="1.1" numOctaves="2" seed="7" result="t"/>
 <feColorMatrix in="t" type="matrix" values="0 0 0 0 0  0 0 0 0 0  0 0 0 0 0  3.2 0 0 0 -0.55" result="m"/>
 <feComposite in="disp" in2="m" operator="in"/>
</filter>
<filter id="sp2" x="-30%" y="-30%" width="160%" height="160%" color-interpolation-filters="sRGB">
 <feTurbulence type="fractalNoise" baseFrequency="0.4" numOctaves="2" seed="5" result="d"/>
 <feDisplacementMap in="SourceGraphic" in2="d" scale="2.5" xChannelSelector="R" yChannelSelector="G" result="disp"/>
 <feTurbulence type="fractalNoise" baseFrequency="1.1" numOctaves="2" seed="9" result="t"/>
 <feColorMatrix in="t" type="matrix" values="0 0 0 0 0  0 0 0 0 0  0 0 0 0 0  2.4 0 0 0 -0.4" result="m"/>
 <feComposite in="disp" in2="m" operator="in"/>
</filter>
<filter id="bgn" x="0" y="0" width="100%" height="100%" color-interpolation-filters="sRGB">
 <feTurbulence type="fractalNoise" baseFrequency="0.7" numOctaves="1" seed="3" result="t"/>
 <feColorMatrix in="t" type="matrix" values="0 0 0 0 0.5  0 0 0 0 0.5  0 0 0 0 0.5  0.5 0 0 0 -0.15" result="m"/>
 <feComposite in="m" in2="SourceGraphic" operator="in"/>
</filter>
</defs>
<rect x="302.90" y="200.60" width="62.70" height="46.00" fill="#cecece"/>
<rect x="302.90" y="200.60" width="62.70" height="46.00" fill="#cecece" filter="url(#bgn)" opacity="0.6"/>
<ellipse cx="333.3" cy="223.3" rx="21" ry="20.5" fill="url(#blob1)" filter="url(#sp)"/>
<rect x="302.90" y="252.90" width="62.70" height="47.40" fill="#d1d1d1"/>
<rect x="302.90" y="252.90" width="62.70" height="47.40" fill="#d1d1d1" filter="url(#bgn)" opacity="0.6"/>
<ellipse cx="357.3" cy="260.5" rx="4.4" ry="4.2" fill="url(#blob3)" filter="url(#sp2)"/>
<ellipse cx="314.2" cy="281.0" rx="10.5" ry="11" fill="url(#blob2)" filter="url(#sp2)"/>
<text x="296.75" y="223.40" font-size="7" text-anchor="middle" textLength="17.60" lengthAdjust="spacingAndGlyphs" transform="rotate(-90 296.75 223.40)">sgCtr</text>
<text x="296.75" y="275.80" font-size="7" text-anchor="middle" textLength="11.00" lengthAdjust="spacingAndGlyphs" transform="rotate(-90 296.75 275.80)">sg2</text>
<text x="446.55" y="196.20" font-size="9.1" text-anchor="middle" textLength="44.10" lengthAdjust="spacingAndGlyphs" style="stroke-width:0.1px">OCI-AML2</text>
<line x1="413.00" y1="201.30" x2="413.00" y2="286.00" stroke="#231f20" stroke-width="1.3"/>
<line x1="409.70" y1="213.50" x2="413.00" y2="213.50" stroke="#231f20" stroke-width="1.0"/>
<text x="407.50" y="216.02" font-size="7" text-anchor="end">150</text>
<line x1="409.70" y1="234.60" x2="413.00" y2="234.60" stroke="#231f20" stroke-width="1.0"/>
<text x="407.50" y="237.12" font-size="7" text-anchor="end">100</text>
<line x1="409.70" y1="255.90" x2="413.00" y2="255.90" stroke="#231f20" stroke-width="1.0"/>
<text x="407.50" y="258.42" font-size="7" text-anchor="end">50</text>
<line x1="409.70" y1="277.20" x2="413.00" y2="277.20" stroke="#231f20" stroke-width="1.0"/>
<text x="407.50" y="279.72" font-size="7" text-anchor="end">0</text>
<line x1="412.35" y1="286.00" x2="493.50" y2="286.00" stroke="#231f20" stroke-width="1.3"/>
<line x1="426.50" y1="286.00" x2="426.50" y2="289.00" stroke="#231f20" stroke-width="1.0"/>
<text x="426.50" y="298.92" font-size="7" text-anchor="middle">0.00</text>
<line x1="446.50" y1="286.00" x2="446.50" y2="289.00" stroke="#231f20" stroke-width="1.0"/>
<text x="446.50" y="298.92" font-size="7" text-anchor="middle">0.25</text>
<line x1="466.30" y1="286.00" x2="466.30" y2="289.00" stroke="#231f20" stroke-width="1.0"/>
<text x="466.30" y="298.92" font-size="7" text-anchor="middle">1.00</text>
<line x1="485.70" y1="286.00" x2="485.70" y2="289.00" stroke="#231f20" stroke-width="1.0"/>
<text x="485.70" y="298.92" font-size="7" text-anchor="middle">2.50</text>
<text x="440.20" y="312.50" font-size="8.7" textLength="32.70" lengthAdjust="spacingAndGlyphs" style="stroke-width:0.3px">AraC [µm]</text>
<text x="389.50" y="242.90" font-size="8.7" text-anchor="middle" textLength="62.40" lengthAdjust="spacingAndGlyphs" transform="rotate(-90 389.50 242.90)" style="stroke-width:0.3px">Number of colonies</text>
<polyline points="426.50,220.00 446.50,226.50 466.30,248.90 485.70,276.10" fill="none" stroke="#b8b9bb" stroke-width="0.8"/>
<line x1="426.50" y1="211.20" x2="426.50" y2="228.60" stroke="#4a4a4c" stroke-width="0.9"/>
<line x1="424.90" y1="211.20" x2="428.10" y2="211.20" stroke="#4a4a4c" stroke-width="0.9"/>
<line x1="424.90" y1="228.60" x2="428.10" y2="228.60" stroke="#4a4a4c" stroke-width="0.9"/>
<line x1="446.50" y1="216.10" x2="446.50" y2="236.40" stroke="#4a4a4c" stroke-width="0.9"/>
<line x1="444.90" y1="216.10" x2="448.10" y2="216.10" stroke="#4a4a4c" stroke-width="0.9"/>
<line x1="444.90" y1="236.40" x2="448.10" y2="236.40" stroke="#4a4a4c" stroke-width="0.9"/>
<line x1="466.30" y1="237.20" x2="466.30" y2="260.30" stroke="#4a4a4c" stroke-width="0.9"/>
<line x1="464.70" y1="237.20" x2="467.90" y2="237.20" stroke="#4a4a4c" stroke-width="0.9"/>
<line x1="464.70" y1="260.30" x2="467.90" y2="260.30" stroke="#4a4a4c" stroke-width="0.9"/>
<line x1="426.50" y1="235.00" x2="426.50" y2="250.70" stroke="#3c3c3c" stroke-width="0.8"/>
<line x1="425.00" y1="235.00" x2="428.00" y2="235.00" stroke="#3c3c3c" stroke-width="0.8"/>
<line x1="425.00" y1="250.70" x2="428.00" y2="250.70" stroke="#3c3c3c" stroke-width="0.8"/>
<line x1="446.50" y1="242.40" x2="446.50" y2="257.20" stroke="#3c3c3c" stroke-width="0.8"/>
<line x1="445.00" y1="242.40" x2="448.00" y2="242.40" stroke="#3c3c3c" stroke-width="0.8"/>
<line x1="445.00" y1="257.20" x2="448.00" y2="257.20" stroke="#3c3c3c" stroke-width="0.8"/>
<line x1="466.30" y1="268.00" x2="466.30" y2="274.00" stroke="#3c3c3c" stroke-width="0.8"/>
<line x1="464.80" y1="268.00" x2="467.80" y2="268.00" stroke="#3c3c3c" stroke-width="0.8"/>
<line x1="464.80" y1="274.00" x2="467.80" y2="274.00" stroke="#3c3c3c" stroke-width="0.8"/>
<polyline points="426.50,244.20 446.50,251.50 466.30,271.40 485.70,277.20" fill="none" stroke="#c2476a" stroke-width="1.0"/>
<polyline points="426.50,243.00 446.50,253.00 466.30,272.20 485.70,277.60" fill="none" stroke="#b51a3a" stroke-width="1.1"/>
<circle cx="426.50" cy="220.00" r="2.5" fill="#e4e4e4" stroke="#505052" stroke-width="1.1"/>
<circle cx="446.50" cy="226.50" r="2.5" fill="#e4e4e4" stroke="#505052" stroke-width="1.1"/>
<circle cx="466.30" cy="248.90" r="2.5" fill="#e4e4e4" stroke="#505052" stroke-width="1.1"/>
<circle cx="485.70" cy="276.10" r="2.5" fill="#e4e4e4" stroke="#505052" stroke-width="1.1"/>
<circle cx="426.50" cy="244.20" r="2.4" fill="#d89aac" stroke="#8a2040" stroke-width="1.0"/>
<circle cx="446.50" cy="251.50" r="2.4" fill="#d89aac" stroke="#8a2040" stroke-width="1.0"/>
<circle cx="466.30" cy="271.40" r="2.4" fill="#d89aac" stroke="#8a2040" stroke-width="1.0"/>
<circle cx="485.70" cy="277.20" r="2.4" fill="#d89aac" stroke="#8a2040" stroke-width="1.0"/>
<circle cx="426.50" cy="243.00" r="2.4" fill="#a8163a" stroke="#7a1030" stroke-width="0.8"/>
<circle cx="446.50" cy="253.00" r="2.4" fill="#a8163a" stroke="#7a1030" stroke-width="0.8"/>
<circle cx="466.30" cy="272.20" r="2.4" fill="#a8163a" stroke="#7a1030" stroke-width="0.8"/>
<circle cx="485.70" cy="277.60" r="2.4" fill="#a8163a" stroke="#7a1030" stroke-width="0.8"/>
<line x1="473.50" y1="207.60" x2="481.00" y2="207.60" stroke="#b8b9bb" stroke-width="0.8"/>
<circle cx="477.30" cy="207.60" r="2.0" fill="#e6e6e6" stroke="#3e3e40" stroke-width="1.1"/>
<line x1="473.50" y1="218.80" x2="481.00" y2="218.80" stroke="#c2476a" stroke-width="0.9"/>
<circle cx="477.30" cy="218.80" r="2.0" fill="#e8b0c0" stroke="#7a2040" stroke-width="1.1"/>
<line x1="473.50" y1="231.10" x2="481.00" y2="231.10" stroke="#b51a3a" stroke-width="0.9"/>
<circle cx="477.30" cy="231.10" r="2.1" fill="#9b1535" stroke="#7a1030" stroke-width="0.8"/>
<text x="486.50" y="209.90" font-size="7.2" textLength="16.50" lengthAdjust="spacingAndGlyphs">sgCtr</text>
<text x="486.50" y="221.10" font-size="7.2" textLength="10.50" lengthAdjust="spacingAndGlyphs">sg2</text>
<text x="486.50" y="233.40" font-size="7.2" textLength="10.50" lengthAdjust="spacingAndGlyphs">sg4</text>
<text x="192.50" y="341.40" font-size="9.1" text-anchor="middle" textLength="44.00" lengthAdjust="spacingAndGlyphs" style="stroke-width:0.1px">OCI-AML2</text>
<line x1="34.50" y1="346.30" x2="350.00" y2="346.30" stroke="#231f20" stroke-width="1.2"/>
<text x="421.95" y="341.40" font-size="9.1" text-anchor="middle" textLength="39.20" lengthAdjust="spacingAndGlyphs" style="stroke-width:0.1px">MOLM13</text>
<line x1="380.00" y1="346.30" x2="466.20" y2="346.30" stroke="#231f20" stroke-width="1.2"/>
<text x="55.50" y="358.47" font-size="6.5" textLength="39.50" lengthAdjust="spacingAndGlyphs">+AraC (1µm)</text>
<line x1="34.50" y1="363.80" x2="34.50" y2="449.40" stroke="#231f20" stroke-width="1.3"/>
<line x1="31.20" y1="366.20" x2="34.50" y2="366.20" stroke="#231f20" stroke-width="1.0"/>
<text x="27.90" y="368.72" font-size="7" text-anchor="end">0</text>
<line x1="31.20" y1="400.00" x2="34.50" y2="400.00" stroke="#231f20" stroke-width="1.0"/>
<text x="27.90" y="402.52" font-size="7" text-anchor="end">-2</text>
<line x1="31.20" y1="433.50" x2="34.50" y2="433.50" stroke="#231f20" stroke-width="1.0"/>
<text x="27.90" y="436.02" font-size="7" text-anchor="end">-4</text>
<line x1="33.85" y1="449.40" x2="118.50" y2="449.40" stroke="#231f20" stroke-width="1.3"/>
<line x1="47.60" y1="449.40" x2="47.60" y2="452.40" stroke="#231f20" stroke-width="1.0"/>
<text x="47.60" y="463.12" font-size="7" text-anchor="middle">0</text>
<line x1="76.70" y1="449.40" x2="76.70" y2="452.40" stroke="#231f20" stroke-width="1.0"/>
<text x="76.70" y="463.12" font-size="7" text-anchor="middle">3</text>
<line x1="105.70" y1="449.40" x2="105.70" y2="452.40" stroke="#231f20" stroke-width="1.0"/>
<text x="105.70" y="463.12" font-size="7" text-anchor="middle">6</text>
<rect x="39.00" y="365.30" width="2.40" height="2.20" rx="1.10" fill="#3a3a3a"/>
<rect x="46.70" y="365.30" width="2.40" height="2.20" rx="1.10" fill="#3a3a3a"/>
<rect x="54.80" y="365.30" width="2.40" height="2.20" rx="1.10" fill="#3a3a3a"/>
<rect x="66.70" y="365.40" width="4.80" height="2.20" rx="1.10" fill="#4a4a4a"/>
<rect x="75.00" y="366.20" width="4.00" height="11.10" fill="#e2899a"/>
<rect x="75.00" y="374.80" width="4.00" height="2.50" fill="rgba(40,30,40,0.45)"/>
<line x1="77.00" y1="377.30" x2="77.00" y2="380.90" stroke="#2e2a30" stroke-width="0.7"/>
<circle cx="77.00" cy="378.60" r="1.05" fill="#2e2a30"/>
<circle cx="77.00" cy="380.90" r="1.05" fill="#2e2a30"/>
<rect x="82.80" y="366.20" width="4.30" height="9.90" fill="#c8102e"/>
<rect x="82.80" y="373.60" width="4.30" height="2.50" fill="rgba(40,30,40,0.45)"/>
<circle cx="84.95" cy="377.30" r="1.05" fill="#2e2a30"/>
<rect x="96.20" y="367.40" width="3.80" height="2.00" rx="1.00" fill="#333"/>
<rect x="104.20" y="366.20" width="3.80" height="52.60" fill="#e2899a"/>
<rect x="104.20" y="413.30" width="3.80" height="5.50" fill="rgba(40,30,40,0.45)"/>
<line x1="106.10" y1="418.80" x2="106.10" y2="426.10" stroke="#2e2a30" stroke-width="0.7"/>
<circle cx="106.10" cy="426.10" r="1.05" fill="#2e2a30"/>
<rect x="112.10" y="366.20" width="4.20" height="73.30" fill="#c8102e"/>
<rect x="112.10" y="435.80" width="4.20" height="3.70" fill="rgba(40,30,40,0.45)"/>
<line x1="114.20" y1="439.50" x2="114.20" y2="443.00" stroke="#2e2a30" stroke-width="0.7"/>
<circle cx="114.20" cy="443.00" r="1.05" fill="#2e2a30"/>
<text x="45.80" y="392.55" font-size="7" textLength="53.00" lengthAdjust="spacingAndGlyphs"><tspan font-style="italic">Padj</tspan> = 3.36e-003</text>
<text x="45.80" y="403.15" font-size="7" textLength="53.00" lengthAdjust="spacingAndGlyphs"><tspan font-style="italic">Padj</tspan> = 5.77e-003</text>
<line x1="66.70" y1="384.50" x2="74.40" y2="384.50" stroke="#231f20" stroke-width="0.75"/>
<line x1="66.70" y1="396.50" x2="86.20" y2="396.50" stroke="#231f20" stroke-width="0.75"/>
<text x="58.00" y="435.45" font-size="7" textLength="52.40" lengthAdjust="spacingAndGlyphs"><tspan font-style="italic">Padj</tspan> = 7.77e-003</text>
<text x="58.00" y="446.95" font-size="7" textLength="52.40" lengthAdjust="spacingAndGlyphs"><tspan font-style="italic">Padj</tspan> = 1.37e-003</text>
<line x1="94.20" y1="428.50" x2="104.60" y2="428.50" stroke="#231f20" stroke-width="0.75"/>
<line x1="93.50" y1="440.50" x2="112.70" y2="440.50" stroke="#231f20" stroke-width="0.75"/>
<text x="16.00" y="397.00" font-size="9.2" text-anchor="middle" textLength="49.30" lengthAdjust="spacingAndGlyphs" transform="rotate(-90 16.00 397.00)" style="stroke-width:0.3px">Log2FC survival</text>
<text x="171.00" y="358.47" font-size="6.5" textLength="38.60" lengthAdjust="spacingAndGlyphs">+AraC (2µm)</text>
<line x1="149.60" y1="363.00" x2="149.60" y2="450.30" stroke="#231f20" stroke-width="1.3"/>
<line x1="146.30" y1="366.20" x2="149.60" y2="366.20" stroke="#231f20" stroke-width="1.0"/>
<text x="143.00" y="368.72" font-size="7" text-anchor="end">0</text>
<line x1="146.30" y1="402.30" x2="149.60" y2="402.30" stroke="#231f20" stroke-width="1.0"/>
<text x="143.00" y="404.82" font-size="7" text-anchor="end">-3</text>
<line x1="146.30" y1="438.80" x2="149.60" y2="438.80" stroke="#231f20" stroke-width="1.0"/>
<text x="143.00" y="441.32" font-size="7" text-anchor="end">-6</text>
<line x1="148.95" y1="450.30" x2="232.70" y2="450.30" stroke="#231f20" stroke-width="1.3"/>
<line x1="163.00" y1="450.30" x2="163.00" y2="453.30" stroke="#231f20" stroke-width="1.0"/>
<text x="163.00" y="463.12" font-size="7" text-anchor="middle">0</text>
<line x1="191.80" y1="450.30" x2="191.80" y2="453.30" stroke="#231f20" stroke-width="1.0"/>
<text x="191.80" y="463.12" font-size="7" text-anchor="middle">3</text>
<line x1="220.70" y1="450.30" x2="220.70" y2="453.30" stroke="#231f20" stroke-width="1.0"/>
<text x="220.70" y="463.12" font-size="7" text-anchor="middle">6</text>
<rect x="153.70" y="365.30" width="2.40" height="2.20" rx="1.10" fill="#3a3a3a"/>
<rect x="161.50" y="365.30" width="2.40" height="2.20" rx="1.10" fill="#3a3a3a"/>
<rect x="168.60" y="365.30" width="3.60" height="2.20" rx="1.10" fill="#3a3a3a"/>
<rect x="181.80" y="366.40" width="3.40" height="2.00" rx="1.00" fill="#3a3a3a"/>
<rect x="190.00" y="366.20" width="3.80" height="18.30" fill="#e2899a"/>
<rect x="190.00" y="383.00" width="3.80" height="1.50" fill="rgba(40,30,40,0.45)"/>
<line x1="191.90" y1="384.50" x2="191.90" y2="389.80" stroke="#2e2a30" stroke-width="0.7"/>
<circle cx="191.90" cy="386.50" r="1.05" fill="#2e2a30"/>
<circle cx="191.90" cy="389.80" r="1.05" fill="#2e2a30"/>
<rect x="197.90" y="366.20" width="4.10" height="15.00" fill="#c8102e"/>
<rect x="197.90" y="379.70" width="4.10" height="1.50" fill="rgba(40,30,40,0.45)"/>
<circle cx="199.95" cy="382.60" r="1.05" fill="#2e2a30"/>
<circle cx="199.95" cy="384.00" r="1.05" fill="#2e2a30"/>
<rect x="210.50" y="366.20" width="4.00" height="3.90" fill="#c6c7cb"/>
<line x1="212.50" y1="370.10" x2="212.50" y2="375.00" stroke="#2e2a30" stroke-width="0.7"/>
<circle cx="212.50" cy="371.50" r="1.05" fill="#2e2a30"/>
<circle cx="212.50" cy="375.00" r="1.05" fill="#2e2a30"/>
<rect x="218.80" y="366.20" width="4.60" height="48.90" fill="#e2899a"/>
<rect x="218.80" y="411.10" width="4.60" height="4.00" fill="rgba(40,30,40,0.45)"/>
<line x1="221.10" y1="415.10" x2="221.10" y2="421.60" stroke="#2e2a30" stroke-width="0.7"/>
<circle cx="221.10" cy="418.50" r="1.05" fill="#2e2a30"/>
<circle cx="221.10" cy="421.60" r="1.05" fill="#2e2a30"/>
<rect x="226.20" y="366.20" width="5.20" height="67.30" fill="#c8102e"/>
<rect x="226.20" y="430.00" width="5.20" height="3.50" fill="rgba(40,30,40,0.45)"/>
<circle cx="228.80" cy="436.60" r="1.05" fill="#2e2a30"/>
<text x="161.20" y="400.65" font-size="7" textLength="38.00" lengthAdjust="spacingAndGlyphs"><tspan font-style="italic">Padj</tspan> = .0058</text>
<text x="161.20" y="411.65" font-size="7" textLength="38.00" lengthAdjust="spacingAndGlyphs"><tspan font-style="italic">Padj</tspan> = .0035</text>
<line x1="183.50" y1="393.50" x2="191.20" y2="393.50" stroke="#231f20" stroke-width="0.75"/>
<line x1="183.50" y1="404.50" x2="202.70" y2="404.50" stroke="#231f20" stroke-width="0.75"/>
<text x="175.70" y="437.55" font-size="7" textLength="39.20" lengthAdjust="spacingAndGlyphs"><tspan font-style="italic">Padj</tspan> = .0033</text>
<text x="175.70" y="448.65" font-size="7" textLength="39.20" lengthAdjust="spacingAndGlyphs"><tspan font-style="italic">Padj</tspan> = .0006</text>
<line x1="211.50" y1="431.50" x2="219.10" y2="431.50" stroke="#231f20" stroke-width="0.75"/>
<line x1="211.10" y1="441.50" x2="229.90" y2="441.50" stroke="#231f20" stroke-width="0.75"/>
<text x="286.50" y="358.47" font-size="6.5" textLength="38.10" lengthAdjust="spacingAndGlyphs">+AraC (3µm)</text>
<line x1="264.60" y1="363.00" x2="264.60" y2="450.30" stroke="#231f20" stroke-width="1.3"/>
<line x1="261.30" y1="366.20" x2="264.60" y2="366.20" stroke="#231f20" stroke-width="1.0"/>
<text x="258.00" y="368.72" font-size="7" text-anchor="end">0</text>
<line x1="261.30" y1="402.30" x2="264.60" y2="402.30" stroke="#231f20" stroke-width="1.0"/>
<text x="258.00" y="404.82" font-size="7" text-anchor="end">-3</text>
<line x1="261.30" y1="438.80" x2="264.60" y2="438.80" stroke="#231f20" stroke-width="1.0"/>
<text x="258.00" y="441.32" font-size="7" text-anchor="end">-6</text>
<line x1="263.95" y1="450.30" x2="350.00" y2="450.30" stroke="#231f20" stroke-width="1.3"/>
<line x1="278.00" y1="450.30" x2="278.00" y2="453.30" stroke="#231f20" stroke-width="1.0"/>
<text x="278.00" y="463.12" font-size="7" text-anchor="middle">0</text>
<line x1="306.80" y1="450.30" x2="306.80" y2="453.30" stroke="#231f20" stroke-width="1.0"/>
<text x="306.80" y="463.12" font-size="7" text-anchor="middle">3</text>
<line x1="336.20" y1="450.30" x2="336.20" y2="453.30" stroke="#231f20" stroke-width="1.0"/>
<text x="336.20" y="463.12" font-size="7" text-anchor="middle">6</text>
<rect x="268.70" y="365.30" width="2.40" height="2.20" rx="1.10" fill="#3a3a3a"/>
<rect x="276.60" y="365.30" width="2.40" height="2.20" rx="1.10" fill="#3a3a3a"/>
<rect x="284.00" y="365.30" width="3.60" height="2.20" rx="1.10" fill="#3a3a3a"/>
<rect x="297.20" y="366.20" width="4.20" height="1.80" fill="#888"/>
<circle cx="299.30" cy="368.50" r="1.05" fill="#2e2a30"/>
<circle cx="299.30" cy="370.00" r="1.05" fill="#2e2a30"/>
<rect x="305.00" y="366.20" width="4.60" height="26.00" fill="#e2899a"/>
<rect x="305.00" y="390.20" width="4.60" height="2.00" fill="rgba(40,30,40,0.45)"/>
<circle cx="307.30" cy="394.20" r="1.05" fill="#2e2a30"/>
<rect x="312.60" y="366.20" width="4.60" height="26.00" fill="#c8102e"/>
<rect x="312.60" y="390.20" width="4.60" height="2.00" fill="rgba(40,30,40,0.45)"/>
<circle cx="314.90" cy="394.20" r="1.05" fill="#2e2a30"/>
<rect x="325.80" y="366.20" width="5.10" height="28.30" fill="#c6c7cb"/>
<rect x="325.80" y="393.00" width="5.10" height="1.50" fill="rgba(40,30,40,0.45)"/>
<line x1="328.35" y1="394.50" x2="328.35" y2="399.00" stroke="#2e2a30" stroke-width="0.7"/>
<circle cx="328.35" cy="396.20" r="1.05" fill="#2e2a30"/>
<circle cx="328.35" cy="399.00" r="1.05" fill="#2e2a30"/>
<rect x="333.90" y="366.20" width="4.60" height="69.30" fill="#e2899a"/>
<rect x="333.90" y="432.50" width="4.60" height="3.00" fill="rgba(40,30,40,0.45)"/>
<line x1="336.20" y1="435.50" x2="336.20" y2="439.50" stroke="#2e2a30" stroke-width="0.7"/>
<circle cx="336.20" cy="437.00" r="1.05" fill="#2e2a30"/>
<circle cx="336.20" cy="439.50" r="1.05" fill="#2e2a30"/>
<rect x="341.90" y="366.20" width="4.60" height="71.30" fill="#c8102e"/>
<rect x="341.90" y="434.50" width="4.60" height="3.00" fill="rgba(40,30,40,0.45)"/>
<line x1="344.20" y1="437.50" x2="344.20" y2="442.50" stroke="#2e2a30" stroke-width="0.7"/>
<circle cx="344.20" cy="439.50" r="1.05" fill="#2e2a30"/>
<circle cx="344.20" cy="442.50" r="1.05" fill="#2e2a30"/>
<text x="280.80" y="408.65" font-size="7" textLength="38.50" lengthAdjust="spacingAndGlyphs"><tspan font-style="italic">Padj</tspan> = .0013</text>
<text x="280.80" y="419.35" font-size="7" textLength="38.50" lengthAdjust="spacingAndGlyphs"><tspan font-style="italic">Padj</tspan> = .0012</text>
<line x1="296.90" y1="401.50" x2="305.00" y2="401.50" stroke="#231f20" stroke-width="0.75"/>
<line x1="296.90" y1="412.50" x2="315.40" y2="412.50" stroke="#231f20" stroke-width="0.75"/>
<text x="293.90" y="437.05" font-size="7" textLength="38.80" lengthAdjust="spacingAndGlyphs"><tspan font-style="italic">Padj</tspan> = .0063</text>
<text x="293.90" y="445.85" font-size="7" textLength="38.80" lengthAdjust="spacingAndGlyphs"><tspan font-style="italic">Padj</tspan> = .0001</text>
<line x1="325.80" y1="438.50" x2="333.90" y2="438.50" stroke="#231f20" stroke-width="0.75"/>
<line x1="325.80" y1="448.50" x2="343.10" y2="448.50" stroke="#231f20" stroke-width="0.75"/>
<text x="242.90" y="476.40" font-size="8.8" textLength="15.00" lengthAdjust="spacingAndGlyphs" style="stroke-width:0.3px">Days</text>
<text x="399.70" y="358.47" font-size="6.5" textLength="42.90" lengthAdjust="spacingAndGlyphs">+AraC (75nm)</text>
<line x1="380.30" y1="363.00" x2="380.30" y2="450.00" stroke="#231f20" stroke-width="1.3"/>
<line x1="377.00" y1="366.20" x2="380.30" y2="366.20" stroke="#231f20" stroke-width="1.0"/>
<text x="373.70" y="368.72" font-size="7" text-anchor="end">0</text>
<line x1="377.00" y1="399.90" x2="380.30" y2="399.90" stroke="#231f20" stroke-width="1.0"/>
<text x="373.70" y="402.42" font-size="7" text-anchor="end">-2</text>
<line x1="377.00" y1="433.40" x2="380.30" y2="433.40" stroke="#231f20" stroke-width="1.0"/>
<text x="373.70" y="435.92" font-size="7" text-anchor="end">-4</text>
<line x1="379.65" y1="450.00" x2="465.70" y2="450.00" stroke="#231f20" stroke-width="1.3"/>
<line x1="393.50" y1="450.00" x2="393.50" y2="453.00" stroke="#231f20" stroke-width="1.0"/>
<text x="393.50" y="463.12" font-size="7" text-anchor="middle">0</text>
<line x1="422.80" y1="450.00" x2="422.80" y2="453.00" stroke="#231f20" stroke-width="1.0"/>
<text x="422.80" y="463.12" font-size="7" text-anchor="middle">3</text>
<line x1="452.30" y1="450.00" x2="452.30" y2="453.00" stroke="#231f20" stroke-width="1.0"/>
<text x="452.30" y="463.12" font-size="7" text-anchor="middle">6</text>
<rect x="383.70" y="365.30" width="2.40" height="2.20" rx="1.10" fill="#3a3a3a"/>
<rect x="392.10" y="365.30" width="2.40" height="2.20" rx="1.10" fill="#3a3a3a"/>
<rect x="400.00" y="365.30" width="3.60" height="2.20" rx="1.10" fill="#3a3a3a"/>
<rect x="413.10" y="366.20" width="4.10" height="9.40" fill="#c6c7cb"/>
<rect x="413.10" y="374.60" width="4.10" height="1.00" fill="rgba(40,30,40,0.45)"/>
<circle cx="415.15" cy="376.90" r="1.05" fill="#2e2a30"/>
<rect x="421.20" y="366.20" width="4.10" height="24.30" fill="#93b0cc"/>
<rect x="421.20" y="389.00" width="4.10" height="1.50" fill="rgba(40,30,40,0.45)"/>
<circle cx="423.25" cy="392.00" r="1.05" fill="#2e2a30"/>
<circle cx="423.25" cy="393.50" r="1.05" fill="#2e2a30"/>
<rect x="429.20" y="366.20" width="4.20" height="17.30" fill="#1b5186"/>
<rect x="429.20" y="382.00" width="4.20" height="1.50" fill="rgba(40,30,40,0.45)"/>
<circle cx="431.30" cy="384.90" r="1.05" fill="#2e2a30"/>
<rect x="442.60" y="366.20" width="4.60" height="63.30" fill="#c6c7cb"/>
<rect x="442.60" y="427.00" width="4.60" height="2.50" fill="rgba(40,30,40,0.45)"/>
<line x1="444.90" y1="429.50" x2="444.90" y2="433.80" stroke="#2e2a30" stroke-width="0.7"/>
<circle cx="444.90" cy="431.20" r="1.05" fill="#2e2a30"/>
<circle cx="444.90" cy="433.80" r="1.05" fill="#2e2a30"/>
<rect x="450.50" y="366.20" width="4.10" height="65.30" fill="#93b0cc"/>
<rect x="450.50" y="429.00" width="4.10" height="2.50" fill="rgba(40,30,40,0.45)"/>
<line x1="452.55" y1="431.50" x2="452.55" y2="435.80" stroke="#2e2a30" stroke-width="0.7"/>
<circle cx="452.55" cy="433.20" r="1.05" fill="#2e2a30"/>
<circle cx="452.55" cy="435.80" r="1.05" fill="#2e2a30"/>
<rect x="458.80" y="366.20" width="4.10" height="68.30" fill="#1b5186"/>
<rect x="458.80" y="432.00" width="4.10" height="2.50" fill="rgba(40,30,40,0.45)"/>
<line x1="460.85" y1="434.50" x2="460.85" y2="438.50" stroke="#2e2a30" stroke-width="0.7"/>
<circle cx="460.85" cy="436.00" r="1.05" fill="#2e2a30"/>
<circle cx="460.85" cy="438.50" r="1.05" fill="#2e2a30"/>
<text x="388.80" y="407.45" font-size="7" textLength="38.10" lengthAdjust="spacingAndGlyphs"><tspan font-style="italic">Padj</tspan> = .0024</text>
<text x="388.80" y="417.85" font-size="7" textLength="34.70" lengthAdjust="spacingAndGlyphs"><tspan font-style="italic">Padj</tspan> = .003</text>
<line x1="414.20" y1="398.50" x2="421.20" y2="398.50" stroke="#231f20" stroke-width="0.75"/>
<line x1="414.20" y1="408.50" x2="432.00" y2="408.50" stroke="#231f20" stroke-width="0.75"/>
<text x="412.60" y="440.45" font-size="7" textLength="27.00" lengthAdjust="spacingAndGlyphs"><tspan font-style="italic">Padj</tspan> = .7</text>
<text x="421.80" y="446.65" font-size="7" textLength="27.00" lengthAdjust="spacingAndGlyphs"><tspan font-style="italic">Padj</tspan> = .3</text>
<line x1="444.20" y1="438.50" x2="451.20" y2="438.50" stroke="#231f20" stroke-width="0.75"/>
<line x1="444.20" y1="448.50" x2="461.50" y2="448.50" stroke="#231f20" stroke-width="0.75"/>
<rect x="475.80" y="365.40" width="6.00" height="6.00" fill="#c6c7cb"/>
<text x="484.90" y="370.80" font-size="7.2" textLength="16.50" lengthAdjust="spacingAndGlyphs">sgCtr</text>
<rect x="475.80" y="377.70" width="6.00" height="6.00" fill="#e2899a"/>
<text x="484.90" y="383.10" font-size="7.2" textLength="10.50" lengthAdjust="spacingAndGlyphs">sg2</text>
<rect x="475.80" y="390.00" width="6.00" height="6.00" fill="#c8102e"/>
<text x="484.90" y="395.40" font-size="7.2" textLength="10.50" lengthAdjust="spacingAndGlyphs">sg4</text>
<rect x="475.80" y="409.90" width="6.00" height="6.00" fill="#c9c9cb"/>
<text x="484.90" y="415.30" font-size="7.2" textLength="16.50" lengthAdjust="spacingAndGlyphs">sgCtr</text>
<rect x="475.80" y="422.50" width="6.00" height="6.00" fill="#93b0cc"/>
<text x="484.90" y="427.90" font-size="7.2" textLength="10.50" lengthAdjust="spacingAndGlyphs">sg2</text>
<rect x="475.80" y="434.80" width="6.00" height="6.00" fill="#1b5186"/>
<text x="484.90" y="440.20" font-size="7.2" textLength="10.50" lengthAdjust="spacingAndGlyphs">sg4</text>
<text x="81.45" y="520.00" font-size="9.1" text-anchor="middle" textLength="43.90" lengthAdjust="spacingAndGlyphs" style="stroke-width:0.1px">OCI-AML2</text>
<line x1="37.50" y1="545.50" x2="130.00" y2="545.50" stroke="#a8a8a8" stroke-width="0.8" stroke-dasharray="0.8 1.2"/>
<line x1="37.50" y1="527.50" x2="37.50" y2="615.50" stroke="#231f20" stroke-width="1.3"/>
<line x1="34.20" y1="545.50" x2="37.50" y2="545.50" stroke="#231f20" stroke-width="1.0"/>
<text x="31.50" y="548.02" font-size="7" text-anchor="end">1.0</text>
<line x1="34.20" y1="580.50" x2="37.50" y2="580.50" stroke="#231f20" stroke-width="1.0"/>
<text x="31.50" y="583.02" font-size="7" text-anchor="end">0.5</text>
<line x1="34.20" y1="615.00" x2="37.50" y2="615.00" stroke="#231f20" stroke-width="1.0"/>
<text x="31.50" y="617.52" font-size="7" text-anchor="end">0.0</text>
<line x1="36.85" y1="615.50" x2="123.75" y2="615.50" stroke="#231f20" stroke-width="1.3"/>
<line x1="37.50" y1="615.50" x2="37.50" y2="618.50" stroke="#231f20" stroke-width="1.0"/>
<text x="37.50" y="628.02" font-size="7" text-anchor="middle">0</text>
<line x1="59.25" y1="615.50" x2="59.25" y2="618.50" stroke="#231f20" stroke-width="1.0"/>
<text x="59.25" y="628.02" font-size="7" text-anchor="middle">3</text>
<line x1="80.00" y1="615.50" x2="80.00" y2="618.50" stroke="#231f20" stroke-width="1.0"/>
<text x="80.00" y="628.02" font-size="7" text-anchor="middle">6</text>
<line x1="101.25" y1="615.50" x2="101.25" y2="618.50" stroke="#231f20" stroke-width="1.0"/>
<text x="101.25" y="628.02" font-size="7" text-anchor="middle">9</text>
<line x1="122.00" y1="615.50" x2="122.00" y2="618.50" stroke="#231f20" stroke-width="1.0"/>
<text x="122.00" y="628.02" font-size="7" text-anchor="middle">12</text>
<text x="72.60" y="641.80" font-size="9" textLength="14.50" lengthAdjust="spacingAndGlyphs" style="stroke-width:0.3px">Days</text>
<text x="15.40" y="578.60" font-size="8.8" text-anchor="middle" textLength="53.20" lengthAdjust="spacingAndGlyphs" transform="rotate(-90 15.40 578.60)" style="stroke-width:0.3px">Ratio GFP+ cells</text>
<polyline points="37.50,545.50 59.25,543.75 80.00,548.25 101.25,553.00 122.00,548.75" fill="none" stroke="#c6c4ca" stroke-width="1.1"/>
<polyline points="37.50,545.50 59.25,550.75 80.00,556.25 101.25,561.25 122.00,561.75" fill="none" stroke="#3bb54a" stroke-width="1.1"/>
<polyline points="37.50,545.50 59.25,572.50 80.00,595.50 101.25,602.50 122.00,602.50" fill="none" stroke="#f7941d" stroke-width="1.1"/>
<polyline points="37.50,545.50 59.25,570.75 80.00,596.25 101.25,608.00 122.00,608.00" fill="none" stroke="#c5163a" stroke-width="1.1"/>
<polyline points="37.50,545.50 59.25,577.50 80.00,603.75 101.25,608.60 122.00,608.60" fill="none" stroke="#176b55" stroke-width="1.1"/>
<circle cx="59.25" cy="543.75" r="2.4" fill="#c6c4ca"/>
<circle cx="80.00" cy="548.25" r="2.4" fill="#c6c4ca"/>
<circle cx="101.25" cy="553.00" r="2.4" fill="#c6c4ca"/>
<circle cx="122.00" cy="548.75" r="2.4" fill="#c6c4ca"/>
<circle cx="59.25" cy="550.75" r="2.4" fill="#3bb54a"/>
<circle cx="80.00" cy="556.25" r="2.4" fill="#3bb54a"/>
<circle cx="101.25" cy="561.25" r="2.4" fill="#3bb54a"/>
<circle cx="122.00" cy="561.75" r="2.4" fill="#3bb54a"/>
<circle cx="59.25" cy="572.50" r="2.4" fill="#f7941d"/>
<circle cx="80.00" cy="595.50" r="2.4" fill="#f7941d"/>
<circle cx="101.25" cy="602.50" r="2.4" fill="#f7941d"/>
<circle cx="122.00" cy="602.50" r="2.4" fill="#f7941d"/>
<circle cx="59.25" cy="570.75" r="2.4" fill="#c5163a"/>
<circle cx="80.00" cy="596.25" r="2.4" fill="#c5163a"/>
<circle cx="101.25" cy="608.00" r="2.4" fill="#c5163a"/>
<circle cx="122.00" cy="608.00" r="2.4" fill="#c5163a"/>
<circle cx="59.25" cy="577.50" r="2.4" fill="#176b55"/>
<circle cx="80.00" cy="603.75" r="2.4" fill="#176b55"/>
<circle cx="101.25" cy="608.60" r="2.4" fill="#176b55"/>
<circle cx="122.00" cy="608.60" r="2.4" fill="#176b55"/>
<circle cx="37.50" cy="545.50" r="2.5" fill="#c6c4ca"/>
<line x1="140.80" y1="541.80" x2="150.20" y2="541.80" stroke="#176b55" stroke-width="1.1"/>
<circle cx="145.50" cy="541.80" r="1.9" fill="#176b55"/>
<line x1="140.80" y1="554.60" x2="150.20" y2="554.60" stroke="#c6c4ca" stroke-width="1.1"/>
<circle cx="145.50" cy="554.60" r="1.9" fill="#c6c4ca"/>
<line x1="140.80" y1="567.00" x2="150.20" y2="567.00" stroke="#3bb54a" stroke-width="1.1"/>
<circle cx="145.50" cy="567.00" r="1.9" fill="#3bb54a"/>
<line x1="140.80" y1="580.10" x2="150.20" y2="580.10" stroke="#c5163a" stroke-width="1.1"/>
<circle cx="145.50" cy="580.10" r="1.9" fill="#c5163a"/>
<line x1="140.80" y1="592.60" x2="150.20" y2="592.60" stroke="#f7941d" stroke-width="1.1"/>
<circle cx="145.50" cy="592.60" r="1.9" fill="#f7941d"/>
<text x="154.00" y="544.20" font-size="7.2" textLength="21.10" lengthAdjust="spacingAndGlyphs">Ev_sg2</text>
<text x="154.00" y="557.00" font-size="7.2" textLength="27.00" lengthAdjust="spacingAndGlyphs">Ev_sgCtr</text>
<text x="154.00" y="569.40" font-size="7.2" textLength="20.50" lengthAdjust="spacingAndGlyphs">TRMT5</text>
<text x="174.60" y="566.50" font-size="3.6" textLength="6.00" lengthAdjust="spacingAndGlyphs">WT</text>
<text x="154.00" y="582.50" font-size="7.2" textLength="20.50" lengthAdjust="spacingAndGlyphs">TRMT5</text>
<text x="174.60" y="579.60" font-size="3.6" textLength="6.00" lengthAdjust="spacingAndGlyphs">Mut</text>
<text x="154.00" y="595.00" font-size="7.2" textLength="20.50" lengthAdjust="spacingAndGlyphs">TRMT5</text>
<text x="174.60" y="592.10" font-size="3.6" textLength="8.00" lengthAdjust="spacingAndGlyphs">ΔMTS</text>
<line x1="234.00" y1="525.90" x2="234.00" y2="614.90" stroke="#231f20" stroke-width="1.3"/>
<line x1="230.70" y1="528.30" x2="234.00" y2="528.30" stroke="#231f20" stroke-width="1.0"/>
<text x="226.40" y="530.82" font-size="7" text-anchor="end">1</text>
<line x1="230.70" y1="614.90" x2="234.00" y2="614.90" stroke="#231f20" stroke-width="1.0"/>
<text x="226.40" y="617.42" font-size="7" text-anchor="end">0</text>
<line x1="233.35" y1="614.90" x2="406.00" y2="614.90" stroke="#231f20" stroke-width="1.3"/>
<line x1="261.90" y1="614.90" x2="261.90" y2="617.40" stroke="#231f20" stroke-width="1.0"/>
<line x1="320.70" y1="614.90" x2="320.70" y2="617.40" stroke="#231f20" stroke-width="1.0"/>
<line x1="379.70" y1="614.90" x2="379.70" y2="617.40" stroke="#231f20" stroke-width="1.0"/>
<text x="261.90" y="627.64" font-size="6.5" text-anchor="middle">0.0</text>
<text x="320.70" y="627.64" font-size="6.5" text-anchor="middle">1.0</text>
<text x="379.70" y="627.64" font-size="6.5" text-anchor="middle">2.0</text>
<text x="304.10" y="641.50" font-size="8.7" textLength="32.70" lengthAdjust="spacingAndGlyphs" style="stroke-width:0.3px">AraC [µm]</text>
<text x="217.00" y="567.50" font-size="8.5" text-anchor="middle" textLength="46.00" lengthAdjust="spacingAndGlyphs" transform="rotate(-90 217.00 567.50)" style="stroke-width:0.3px">Apoptotic cells</text>
<line x1="291.20" y1="528.00" x2="291.20" y2="614.50" stroke="#a0a0a0" stroke-width="0.7" stroke-dasharray="0.8 1.2"/>
<line x1="350.90" y1="528.00" x2="350.90" y2="614.50" stroke="#a0a0a0" stroke-width="0.7" stroke-dasharray="0.8 1.2"/>
<rect x="237.60" y="587.00" width="6.40" height="27.90" fill="#176b55"/>
<rect x="248.20" y="604.30" width="6.70" height="10.60" fill="#c6c4ca"/>
<rect x="258.10" y="606.80" width="6.70" height="8.10" fill="#3bb54a"/>
<rect x="268.80" y="603.30" width="6.70" height="11.60" fill="#c5163a"/>
<rect x="279.20" y="603.30" width="6.60" height="11.60" fill="#f7941d"/>
<rect x="296.80" y="545.90" width="6.20" height="69.00" fill="#176b55"/>
<rect x="307.10" y="595.60" width="6.20" height="19.30" fill="#c6c4ca"/>
<rect x="317.50" y="595.10" width="6.30" height="19.80" fill="#3bb54a"/>
<rect x="327.50" y="559.20" width="6.70" height="55.70" fill="#c5163a"/>
<rect x="337.90" y="570.50" width="6.60" height="44.40" fill="#f7941d"/>
<rect x="355.60" y="536.10" width="6.10" height="78.80" fill="#176b55"/>
<rect x="366.10" y="568.50" width="6.20" height="46.40" fill="#c6c4ca"/>
<rect x="376.00" y="567.30" width="6.60" height="47.60" fill="#3bb54a"/>
<rect x="386.50" y="544.40" width="6.70" height="70.50" fill="#c5163a"/>
<rect x="396.90" y="548.80" width="6.60" height="66.10" fill="#f7941d"/>
<circle cx="240.80" cy="586.70" r="1.2" fill="#2b2b33"/>
<line x1="240.80" y1="584.80" x2="240.80" y2="588.80" stroke="#2b2b33" stroke-width="0.6"/>
<line x1="239.60" y1="584.80" x2="242.00" y2="584.80" stroke="#2b2b33" stroke-width="0.6"/>
<line x1="239.60" y1="588.80" x2="242.00" y2="588.80" stroke="#2b2b33" stroke-width="0.6"/>
<circle cx="251.55" cy="604.00" r="1.2" fill="#2b2b33"/>
<line x1="251.55" y1="602.10" x2="251.55" y2="606.10" stroke="#2b2b33" stroke-width="0.6"/>
<line x1="250.35" y1="602.10" x2="252.75" y2="602.10" stroke="#2b2b33" stroke-width="0.6"/>
<line x1="250.35" y1="606.10" x2="252.75" y2="606.10" stroke="#2b2b33" stroke-width="0.6"/>
<circle cx="261.45" cy="606.50" r="1.2" fill="#2b2b33"/>
<line x1="261.45" y1="604.60" x2="261.45" y2="608.60" stroke="#2b2b33" stroke-width="0.6"/>
<line x1="260.25" y1="604.60" x2="262.65" y2="604.60" stroke="#2b2b33" stroke-width="0.6"/>
<line x1="260.25" y1="608.60" x2="262.65" y2="608.60" stroke="#2b2b33" stroke-width="0.6"/>
<circle cx="272.15" cy="603.00" r="1.2" fill="#2b2b33"/>
<line x1="272.15" y1="601.10" x2="272.15" y2="605.10" stroke="#2b2b33" stroke-width="0.6"/>
<line x1="270.95" y1="601.10" x2="273.35" y2="601.10" stroke="#2b2b33" stroke-width="0.6"/>
<line x1="270.95" y1="605.10" x2="273.35" y2="605.10" stroke="#2b2b33" stroke-width="0.6"/>
<circle cx="282.50" cy="603.00" r="1.2" fill="#2b2b33"/>
<line x1="282.50" y1="601.10" x2="282.50" y2="605.10" stroke="#2b2b33" stroke-width="0.6"/>
<line x1="281.30" y1="601.10" x2="283.70" y2="601.10" stroke="#2b2b33" stroke-width="0.6"/>
<line x1="281.30" y1="605.10" x2="283.70" y2="605.10" stroke="#2b2b33" stroke-width="0.6"/>
<circle cx="299.90" cy="545.60" r="1.2" fill="#2b2b33"/>
<line x1="299.90" y1="543.70" x2="299.90" y2="547.70" stroke="#2b2b33" stroke-width="0.6"/>
<line x1="298.70" y1="543.70" x2="301.10" y2="543.70" stroke="#2b2b33" stroke-width="0.6"/>
<line x1="298.70" y1="547.70" x2="301.10" y2="547.70" stroke="#2b2b33" stroke-width="0.6"/>
<circle cx="310.20" cy="595.30" r="1.2" fill="#2b2b33"/>
<line x1="310.20" y1="593.40" x2="310.20" y2="597.40" stroke="#2b2b33" stroke-width="0.6"/>
<line x1="309.00" y1="593.40" x2="311.40" y2="593.40" stroke="#2b2b33" stroke-width="0.6"/>
<line x1="309.00" y1="597.40" x2="311.40" y2="597.40" stroke="#2b2b33" stroke-width="0.6"/>
<circle cx="320.65" cy="594.80" r="1.2" fill="#2b2b33"/>
<line x1="320.65" y1="592.90" x2="320.65" y2="596.90" stroke="#2b2b33" stroke-width="0.6"/>
<line x1="319.45" y1="592.90" x2="321.85" y2="592.90" stroke="#2b2b33" stroke-width="0.6"/>
<line x1="319.45" y1="596.90" x2="321.85" y2="596.90" stroke="#2b2b33" stroke-width="0.6"/>
<circle cx="330.85" cy="558.90" r="1.2" fill="#2b2b33"/>
<line x1="330.85" y1="557.00" x2="330.85" y2="561.00" stroke="#2b2b33" stroke-width="0.6"/>
<line x1="329.65" y1="557.00" x2="332.05" y2="557.00" stroke="#2b2b33" stroke-width="0.6"/>
<line x1="329.65" y1="561.00" x2="332.05" y2="561.00" stroke="#2b2b33" stroke-width="0.6"/>
<circle cx="341.20" cy="570.20" r="1.2" fill="#2b2b33"/>
<line x1="341.20" y1="568.30" x2="341.20" y2="572.30" stroke="#2b2b33" stroke-width="0.6"/>
<line x1="340.00" y1="568.30" x2="342.40" y2="568.30" stroke="#2b2b33" stroke-width="0.6"/>
<line x1="340.00" y1="572.30" x2="342.40" y2="572.30" stroke="#2b2b33" stroke-width="0.6"/>
<circle cx="358.65" cy="535.80" r="1.2" fill="#2b2b33"/>
<line x1="358.65" y1="533.90" x2="358.65" y2="537.90" stroke="#2b2b33" stroke-width="0.6"/>
<line x1="357.45" y1="533.90" x2="359.85" y2="533.90" stroke="#2b2b33" stroke-width="0.6"/>
<line x1="357.45" y1="537.90" x2="359.85" y2="537.90" stroke="#2b2b33" stroke-width="0.6"/>
<circle cx="369.20" cy="568.20" r="1.2" fill="#2b2b33"/>
<line x1="369.20" y1="566.30" x2="369.20" y2="570.30" stroke="#2b2b33" stroke-width="0.6"/>
<line x1="368.00" y1="566.30" x2="370.40" y2="566.30" stroke="#2b2b33" stroke-width="0.6"/>
<line x1="368.00" y1="570.30" x2="370.40" y2="570.30" stroke="#2b2b33" stroke-width="0.6"/>
<circle cx="379.30" cy="567.00" r="1.2" fill="#2b2b33"/>
<line x1="379.30" y1="565.10" x2="379.30" y2="569.10" stroke="#2b2b33" stroke-width="0.6"/>
<line x1="378.10" y1="565.10" x2="380.50" y2="565.10" stroke="#2b2b33" stroke-width="0.6"/>
<line x1="378.10" y1="569.10" x2="380.50" y2="569.10" stroke="#2b2b33" stroke-width="0.6"/>
<circle cx="389.85" cy="544.10" r="1.2" fill="#2b2b33"/>
<line x1="389.85" y1="542.20" x2="389.85" y2="546.20" stroke="#2b2b33" stroke-width="0.6"/>
<line x1="388.65" y1="542.20" x2="391.05" y2="542.20" stroke="#2b2b33" stroke-width="0.6"/>
<line x1="388.65" y1="546.20" x2="391.05" y2="546.20" stroke="#2b2b33" stroke-width="0.6"/>
<circle cx="400.20" cy="548.50" r="1.2" fill="#2b2b33"/>
<line x1="400.20" y1="546.60" x2="400.20" y2="550.60" stroke="#2b2b33" stroke-width="0.6"/>
<line x1="399.00" y1="546.60" x2="401.40" y2="546.60" stroke="#2b2b33" stroke-width="0.6"/>
<line x1="399.00" y1="550.60" x2="401.40" y2="550.60" stroke="#2b2b33" stroke-width="0.6"/>
<circle cx="321.00" cy="589.50" r="1.1" fill="#2b2b33"/>
<circle cx="341.20" cy="566.00" r="1.1" fill="#2b2b33"/>
<circle cx="341.20" cy="573.50" r="1.1" fill="#2b2b33"/>
<circle cx="369.20" cy="565.50" r="1.1" fill="#2b2b33"/>
<circle cx="400.20" cy="546.00" r="1.1" fill="#2b2b33"/>
<circle cx="311.00" cy="593.50" r="1.1" fill="#2b2b33"/>
<text x="237.60" y="556.75" font-size="7" textLength="38.60" lengthAdjust="spacingAndGlyphs"><tspan font-style="italic">Padj</tspan> = .0157</text>
<path d="M244,558.8 H249.5 V563" fill="none" stroke="#231f20" stroke-width="0.6"/>
<text x="301.70" y="515.15" font-size="7" textLength="39.40" lengthAdjust="spacingAndGlyphs"><tspan font-style="italic">Padj</tspan> = .0082</text>
<text x="301.70" y="527.45" font-size="7" textLength="39.40" lengthAdjust="spacingAndGlyphs"><tspan font-style="italic">Padj</tspan> = .0027</text>
<text x="294.30" y="540.25" font-size="7" textLength="38.70" lengthAdjust="spacingAndGlyphs"><tspan font-style="italic">Padj</tspan> = .0002</text>
<path d="M341.1,517.4 H310.8 V521.8 M331.2,529.2 H309.6 V533.5 M302.2,542.7 H310.1 V546.9" fill="none" stroke="#231f20" stroke-width="0.6"/>
<text x="361.70" y="505.85" font-size="7" textLength="38.40" lengthAdjust="spacingAndGlyphs"><tspan font-style="italic">Padj</tspan> = .0192</text>
<text x="361.70" y="518.55" font-size="7" textLength="38.40" lengthAdjust="spacingAndGlyphs"><tspan font-style="italic">Padj</tspan> = .0014</text>
<text x="351.90" y="530.45" font-size="7" textLength="39.30" lengthAdjust="spacingAndGlyphs"><tspan font-style="italic">Padj</tspan> = .0030</text>
<path d="M400.1,507.8 H369.1 V512 M389.5,520.1 H368.6 V524.5 M361.2,532.1 H368.6 V536" fill="none" stroke="#231f20" stroke-width="0.6"/>
<rect x="427.80" y="540.50" width="6.30" height="3.20" fill="#176b55"/>
<rect x="427.80" y="553.00" width="6.30" height="3.20" fill="#c6c4ca"/>
<rect x="427.80" y="565.40" width="6.30" height="3.20" fill="#3bb54a"/>
<rect x="427.80" y="577.90" width="6.30" height="3.20" fill="#c5163a"/>
<rect x="427.80" y="590.30" width="6.30" height="3.20" fill="#f7941d"/>
<text x="437.80" y="544.50" font-size="7.2" textLength="21.20" lengthAdjust="spacingAndGlyphs">Ev_sg2</text>
<text x="437.80" y="557.00" font-size="7.2" textLength="27.30" lengthAdjust="spacingAndGlyphs">Ev_sgCtr</text>
<text x="437.80" y="569.40" font-size="7.2" textLength="20.50" lengthAdjust="spacingAndGlyphs">TRMT5</text>
<text x="458.40" y="566.50" font-size="3.6" textLength="6.00" lengthAdjust="spacingAndGlyphs">WT</text>
<text x="437.80" y="581.90" font-size="7.2" textLength="20.50" lengthAdjust="spacingAndGlyphs">TRMT5</text>
<text x="458.40" y="579.00" font-size="3.6" textLength="6.00" lengthAdjust="spacingAndGlyphs">Mut</text>
<text x="437.80" y="594.30" font-size="7.2" textLength="20.50" lengthAdjust="spacingAndGlyphs">TRMT5</text>
<text x="458.40" y="591.40" font-size="3.6" textLength="8.00" lengthAdjust="spacingAndGlyphs">ΔMTS</text>
</svg>
</body></html>
